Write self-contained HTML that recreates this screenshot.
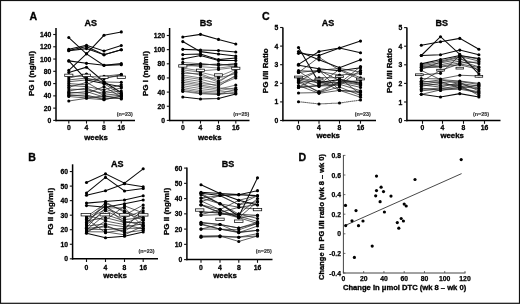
<!DOCTYPE html>
<html><head><meta charset="utf-8"><style>
html,body{margin:0;padding:0;background:#fff;}
body{width:520px;height:304px;overflow:hidden;}
svg{display:block;font-family:"Liberation Sans", sans-serif;will-change:transform;}
</style></head><body>
<svg width="520" height="304" viewBox="0 0 520 304">
<rect x="0" y="0" width="520" height="304" fill="#fff"/>
<rect x="0.5" y="0.5" width="519" height="302.8" fill="none" stroke="#111" stroke-width="1.2"/>
<line x1="56.00" y1="27.90" x2="56.00" y2="121.15" stroke="#000" stroke-width="1.5" />
<line x1="55.30" y1="120.40" x2="135.00" y2="120.40" stroke="#000" stroke-width="1.5" />
<line x1="53.20" y1="120.40" x2="56.00" y2="120.40" stroke="#111" stroke-width="1.1" />
<text x="51.40" y="122.90" font-size="6.8" text-anchor="end" font-weight="bold" fill="#000" stroke="#000" stroke-width="0.28" >0</text>
<line x1="53.20" y1="108.13" x2="56.00" y2="108.13" stroke="#111" stroke-width="1.1" />
<text x="51.40" y="110.63" font-size="6.8" text-anchor="end" font-weight="bold" fill="#000" stroke="#000" stroke-width="0.28" >20</text>
<line x1="53.20" y1="95.86" x2="56.00" y2="95.86" stroke="#111" stroke-width="1.1" />
<text x="51.40" y="98.36" font-size="6.8" text-anchor="end" font-weight="bold" fill="#000" stroke="#000" stroke-width="0.28" >40</text>
<line x1="53.20" y1="83.58" x2="56.00" y2="83.58" stroke="#111" stroke-width="1.1" />
<text x="51.40" y="86.08" font-size="6.8" text-anchor="end" font-weight="bold" fill="#000" stroke="#000" stroke-width="0.28" >60</text>
<line x1="53.20" y1="71.31" x2="56.00" y2="71.31" stroke="#111" stroke-width="1.1" />
<text x="51.40" y="73.81" font-size="6.8" text-anchor="end" font-weight="bold" fill="#000" stroke="#000" stroke-width="0.28" >80</text>
<line x1="53.20" y1="59.04" x2="56.00" y2="59.04" stroke="#111" stroke-width="1.1" />
<text x="51.40" y="61.54" font-size="6.8" text-anchor="end" font-weight="bold" fill="#000" stroke="#000" stroke-width="0.28" >100</text>
<line x1="53.20" y1="46.77" x2="56.00" y2="46.77" stroke="#111" stroke-width="1.1" />
<text x="51.40" y="49.27" font-size="6.8" text-anchor="end" font-weight="bold" fill="#000" stroke="#000" stroke-width="0.28" >120</text>
<line x1="53.20" y1="34.50" x2="56.00" y2="34.50" stroke="#111" stroke-width="1.1" />
<text x="51.40" y="37.00" font-size="6.8" text-anchor="end" font-weight="bold" fill="#000" stroke="#000" stroke-width="0.28" >140</text>
<line x1="68.80" y1="120.40" x2="68.80" y2="123.60" stroke="#111" stroke-width="1.1" />
<text x="68.80" y="129.80" font-size="6.8" text-anchor="middle" font-weight="bold" fill="#000" stroke="#000" stroke-width="0.28" >0</text>
<line x1="86.50" y1="120.40" x2="86.50" y2="123.60" stroke="#111" stroke-width="1.1" />
<text x="86.50" y="129.80" font-size="6.8" text-anchor="middle" font-weight="bold" fill="#000" stroke="#000" stroke-width="0.28" >4</text>
<line x1="104.00" y1="120.40" x2="104.00" y2="123.60" stroke="#111" stroke-width="1.1" />
<text x="104.00" y="129.80" font-size="6.8" text-anchor="middle" font-weight="bold" fill="#000" stroke="#000" stroke-width="0.28" >8</text>
<line x1="121.30" y1="120.40" x2="121.30" y2="123.60" stroke="#111" stroke-width="1.1" />
<text x="121.30" y="129.80" font-size="6.8" text-anchor="middle" font-weight="bold" fill="#000" stroke="#000" stroke-width="0.28" >16</text>
<text x="90.80" y="25.90" font-size="9" text-anchor="middle" font-weight="bold" fill="#000" stroke="#000" stroke-width="0.32" >AS</text>
<text transform="translate(34.30,73.60) rotate(-90)" font-size="8.0" text-anchor="middle" font-weight="bold" stroke="#000" stroke-width="0.32">PG I (ng/ml)</text>
<text x="132.80" y="116.00" font-size="5.4" text-anchor="end" font-weight="bold" fill="#333" stroke="#333" stroke-width="0.15" >(n=23)</text>
<text x="96.00" y="140.40" font-size="7.85" text-anchor="middle" font-weight="bold" fill="#000" stroke="#000" stroke-width="0.32" >weeks</text>
<polyline points="68.80,37.56 86.50,53.82 104.00,65.36 121.30,64.75" fill="none" stroke="#0a0a0a" stroke-width="1.05"/>
<polyline points="68.80,70.39 86.50,53.82 104.00,35.29 121.30,31.92" fill="none" stroke="#0a0a0a" stroke-width="1.05"/>
<polyline points="68.80,49.22 86.50,45.30 104.00,50.94 121.30,45.54" fill="none" stroke="#0a0a0a" stroke-width="1.05"/>
<polyline points="68.80,50.45 86.50,46.58 104.00,54.74 121.30,49.71" fill="none" stroke="#0a0a0a" stroke-width="1.05"/>
<polyline points="68.80,50.76 86.50,48.61 104.00,54.74 121.30,49.71" fill="none" stroke="#0a0a0a" stroke-width="1.05"/>
<polyline points="68.80,60.88 86.50,63.34 104.00,65.24 121.30,63.64" fill="none" stroke="#0a0a0a" stroke-width="1.05"/>
<polyline points="68.80,60.88 86.50,79.90 104.00,83.58 121.30,86.65" fill="none" stroke="#0a0a0a" stroke-width="1.05"/>
<polyline points="68.80,72.54 86.50,67.20 104.00,81.74 121.30,92.79" fill="none" stroke="#0a0a0a" stroke-width="1.05"/>
<polyline points="68.80,101.01 86.50,98.31 104.00,99.72 121.30,95.86" fill="none" stroke="#1e1e1e" stroke-width="0.72"/>
<polyline points="68.80,76.22 86.50,76.22 104.00,77.45 121.30,75.98" fill="none" stroke="#1e1e1e" stroke-width="0.72"/>
<polyline points="68.80,78.06 86.50,74.01 104.00,83.58 121.30,94.63" fill="none" stroke="#1e1e1e" stroke-width="0.72"/>
<polyline points="68.80,79.90 86.50,78.06 104.00,81.99 121.30,82.36" fill="none" stroke="#1e1e1e" stroke-width="0.72"/>
<polyline points="68.80,81.74 86.50,79.90 104.00,78.68 121.30,74.50" fill="none" stroke="#1e1e1e" stroke-width="0.72"/>
<polyline points="68.80,83.58 86.50,84.81 104.00,76.22 121.30,74.38" fill="none" stroke="#1e1e1e" stroke-width="0.72"/>
<polyline points="68.80,85.42 86.50,86.65 104.00,89.72 121.30,84.81" fill="none" stroke="#1e1e1e" stroke-width="0.72"/>
<polyline points="68.80,87.27 86.50,82.36 104.00,92.17 121.30,87.88" fill="none" stroke="#1e1e1e" stroke-width="0.72"/>
<polyline points="68.80,89.11 86.50,89.72 104.00,93.40 121.30,90.95" fill="none" stroke="#1e1e1e" stroke-width="0.72"/>
<polyline points="68.80,90.95 86.50,88.00 104.00,95.24 121.30,93.40" fill="none" stroke="#1e1e1e" stroke-width="0.72"/>
<polyline points="68.80,92.17 86.50,93.40 104.00,86.65 121.30,97.08" fill="none" stroke="#1e1e1e" stroke-width="0.72"/>
<polyline points="68.80,93.40 86.50,91.56 104.00,97.08 121.30,95.00" fill="none" stroke="#1e1e1e" stroke-width="0.72"/>
<polyline points="68.80,94.63 86.50,96.47 104.00,98.31 121.30,98.31" fill="none" stroke="#1e1e1e" stroke-width="0.72"/>
<polyline points="68.80,95.55 86.50,95.00 104.00,99.54 121.30,96.47" fill="none" stroke="#1e1e1e" stroke-width="0.72"/>
<polyline points="68.80,96.47 86.50,98.00 104.00,95.86 121.30,98.99" fill="none" stroke="#1e1e1e" stroke-width="0.72"/>
<circle cx="68.80" cy="37.56" r="1.55" fill="#000"/>
<circle cx="86.50" cy="53.82" r="1.55" fill="#000"/>
<circle cx="104.00" cy="65.36" r="1.55" fill="#000"/>
<circle cx="121.30" cy="64.75" r="1.55" fill="#000"/>
<circle cx="68.80" cy="70.39" r="1.55" fill="#000"/>
<circle cx="86.50" cy="53.82" r="1.55" fill="#000"/>
<circle cx="104.00" cy="35.29" r="1.55" fill="#000"/>
<circle cx="121.30" cy="31.92" r="1.55" fill="#000"/>
<circle cx="68.80" cy="49.22" r="1.55" fill="#000"/>
<circle cx="86.50" cy="45.30" r="1.55" fill="#000"/>
<circle cx="104.00" cy="50.94" r="1.55" fill="#000"/>
<circle cx="121.30" cy="45.54" r="1.55" fill="#000"/>
<circle cx="68.80" cy="50.45" r="1.55" fill="#000"/>
<circle cx="86.50" cy="46.58" r="1.55" fill="#000"/>
<circle cx="104.00" cy="54.74" r="1.55" fill="#000"/>
<circle cx="121.30" cy="49.71" r="1.55" fill="#000"/>
<circle cx="68.80" cy="50.76" r="1.55" fill="#000"/>
<circle cx="86.50" cy="48.61" r="1.55" fill="#000"/>
<circle cx="104.00" cy="54.74" r="1.55" fill="#000"/>
<circle cx="121.30" cy="49.71" r="1.55" fill="#000"/>
<circle cx="68.80" cy="60.88" r="1.55" fill="#000"/>
<circle cx="86.50" cy="63.34" r="1.55" fill="#000"/>
<circle cx="104.00" cy="65.24" r="1.55" fill="#000"/>
<circle cx="121.30" cy="63.64" r="1.55" fill="#000"/>
<circle cx="68.80" cy="60.88" r="1.55" fill="#000"/>
<circle cx="86.50" cy="79.90" r="1.55" fill="#000"/>
<circle cx="104.00" cy="83.58" r="1.55" fill="#000"/>
<circle cx="121.30" cy="86.65" r="1.55" fill="#000"/>
<circle cx="68.80" cy="72.54" r="1.55" fill="#000"/>
<circle cx="86.50" cy="67.20" r="1.55" fill="#000"/>
<circle cx="104.00" cy="81.74" r="1.55" fill="#000"/>
<circle cx="121.30" cy="92.79" r="1.55" fill="#000"/>
<circle cx="68.80" cy="101.01" r="1.55" fill="#000"/>
<circle cx="86.50" cy="98.31" r="1.55" fill="#000"/>
<circle cx="104.00" cy="99.72" r="1.55" fill="#000"/>
<circle cx="121.30" cy="95.86" r="1.55" fill="#000"/>
<circle cx="68.80" cy="76.22" r="1.55" fill="#000"/>
<circle cx="86.50" cy="76.22" r="1.55" fill="#000"/>
<circle cx="104.00" cy="77.45" r="1.55" fill="#000"/>
<circle cx="121.30" cy="75.98" r="1.55" fill="#000"/>
<circle cx="68.80" cy="78.06" r="1.55" fill="#000"/>
<circle cx="86.50" cy="74.01" r="1.55" fill="#000"/>
<circle cx="104.00" cy="83.58" r="1.55" fill="#000"/>
<circle cx="121.30" cy="94.63" r="1.55" fill="#000"/>
<circle cx="68.80" cy="79.90" r="1.55" fill="#000"/>
<circle cx="86.50" cy="78.06" r="1.55" fill="#000"/>
<circle cx="104.00" cy="81.99" r="1.55" fill="#000"/>
<circle cx="121.30" cy="82.36" r="1.55" fill="#000"/>
<circle cx="68.80" cy="81.74" r="1.55" fill="#000"/>
<circle cx="86.50" cy="79.90" r="1.55" fill="#000"/>
<circle cx="104.00" cy="78.68" r="1.55" fill="#000"/>
<circle cx="121.30" cy="74.50" r="1.55" fill="#000"/>
<circle cx="68.80" cy="83.58" r="1.55" fill="#000"/>
<circle cx="86.50" cy="84.81" r="1.55" fill="#000"/>
<circle cx="104.00" cy="76.22" r="1.55" fill="#000"/>
<circle cx="121.30" cy="74.38" r="1.55" fill="#000"/>
<circle cx="68.80" cy="85.42" r="1.55" fill="#000"/>
<circle cx="86.50" cy="86.65" r="1.55" fill="#000"/>
<circle cx="104.00" cy="89.72" r="1.55" fill="#000"/>
<circle cx="121.30" cy="84.81" r="1.55" fill="#000"/>
<circle cx="68.80" cy="87.27" r="1.55" fill="#000"/>
<circle cx="86.50" cy="82.36" r="1.55" fill="#000"/>
<circle cx="104.00" cy="92.17" r="1.55" fill="#000"/>
<circle cx="121.30" cy="87.88" r="1.55" fill="#000"/>
<circle cx="68.80" cy="89.11" r="1.55" fill="#000"/>
<circle cx="86.50" cy="89.72" r="1.55" fill="#000"/>
<circle cx="104.00" cy="93.40" r="1.55" fill="#000"/>
<circle cx="121.30" cy="90.95" r="1.55" fill="#000"/>
<circle cx="68.80" cy="90.95" r="1.55" fill="#000"/>
<circle cx="86.50" cy="88.00" r="1.55" fill="#000"/>
<circle cx="104.00" cy="95.24" r="1.55" fill="#000"/>
<circle cx="121.30" cy="93.40" r="1.55" fill="#000"/>
<circle cx="68.80" cy="92.17" r="1.55" fill="#000"/>
<circle cx="86.50" cy="93.40" r="1.55" fill="#000"/>
<circle cx="104.00" cy="86.65" r="1.55" fill="#000"/>
<circle cx="121.30" cy="97.08" r="1.55" fill="#000"/>
<circle cx="68.80" cy="93.40" r="1.55" fill="#000"/>
<circle cx="86.50" cy="91.56" r="1.55" fill="#000"/>
<circle cx="104.00" cy="97.08" r="1.55" fill="#000"/>
<circle cx="121.30" cy="95.00" r="1.55" fill="#000"/>
<circle cx="68.80" cy="94.63" r="1.55" fill="#000"/>
<circle cx="86.50" cy="96.47" r="1.55" fill="#000"/>
<circle cx="104.00" cy="98.31" r="1.55" fill="#000"/>
<circle cx="121.30" cy="98.31" r="1.55" fill="#000"/>
<circle cx="68.80" cy="95.55" r="1.55" fill="#000"/>
<circle cx="86.50" cy="95.00" r="1.55" fill="#000"/>
<circle cx="104.00" cy="99.54" r="1.55" fill="#000"/>
<circle cx="121.30" cy="96.47" r="1.55" fill="#000"/>
<circle cx="68.80" cy="96.47" r="1.55" fill="#000"/>
<circle cx="86.50" cy="98.00" r="1.55" fill="#000"/>
<circle cx="104.00" cy="95.86" r="1.55" fill="#000"/>
<circle cx="121.30" cy="98.99" r="1.55" fill="#000"/>
<rect x="64.70" y="74.16" width="8.2" height="2.4" fill="#fff" stroke="#111" stroke-width="0.75"/>
<rect x="82.40" y="74.16" width="8.2" height="2.4" fill="#fff" stroke="#111" stroke-width="0.75"/>
<rect x="99.90" y="76.06" width="8.2" height="2.4" fill="#fff" stroke="#111" stroke-width="0.75"/>
<rect x="117.20" y="76.06" width="8.2" height="2.4" fill="#fff" stroke="#111" stroke-width="0.75"/>
<line x1="169.60" y1="28.00" x2="169.60" y2="121.15" stroke="#000" stroke-width="1.5" />
<line x1="168.90" y1="120.40" x2="249.50" y2="120.40" stroke="#000" stroke-width="1.5" />
<line x1="166.80" y1="120.40" x2="169.60" y2="120.40" stroke="#111" stroke-width="1.1" />
<text x="165.00" y="122.90" font-size="6.8" text-anchor="end" font-weight="bold" fill="#000" stroke="#000" stroke-width="0.28" >0</text>
<line x1="166.80" y1="106.25" x2="169.60" y2="106.25" stroke="#111" stroke-width="1.1" />
<text x="165.00" y="108.75" font-size="6.8" text-anchor="end" font-weight="bold" fill="#000" stroke="#000" stroke-width="0.28" >20</text>
<line x1="166.80" y1="92.10" x2="169.60" y2="92.10" stroke="#111" stroke-width="1.1" />
<text x="165.00" y="94.60" font-size="6.8" text-anchor="end" font-weight="bold" fill="#000" stroke="#000" stroke-width="0.28" >40</text>
<line x1="166.80" y1="77.95" x2="169.60" y2="77.95" stroke="#111" stroke-width="1.1" />
<text x="165.00" y="80.45" font-size="6.8" text-anchor="end" font-weight="bold" fill="#000" stroke="#000" stroke-width="0.28" >60</text>
<line x1="166.80" y1="63.80" x2="169.60" y2="63.80" stroke="#111" stroke-width="1.1" />
<text x="165.00" y="66.30" font-size="6.8" text-anchor="end" font-weight="bold" fill="#000" stroke="#000" stroke-width="0.28" >80</text>
<line x1="166.80" y1="49.65" x2="169.60" y2="49.65" stroke="#111" stroke-width="1.1" />
<text x="165.00" y="52.15" font-size="6.8" text-anchor="end" font-weight="bold" fill="#000" stroke="#000" stroke-width="0.28" >100</text>
<line x1="166.80" y1="35.50" x2="169.60" y2="35.50" stroke="#111" stroke-width="1.1" />
<text x="165.00" y="38.00" font-size="6.8" text-anchor="end" font-weight="bold" fill="#000" stroke="#000" stroke-width="0.28" >120</text>
<line x1="182.80" y1="120.40" x2="182.80" y2="123.60" stroke="#111" stroke-width="1.1" />
<text x="182.80" y="129.80" font-size="6.8" text-anchor="middle" font-weight="bold" fill="#000" stroke="#000" stroke-width="0.28" >0</text>
<line x1="200.50" y1="120.40" x2="200.50" y2="123.60" stroke="#111" stroke-width="1.1" />
<text x="200.50" y="129.80" font-size="6.8" text-anchor="middle" font-weight="bold" fill="#000" stroke="#000" stroke-width="0.28" >4</text>
<line x1="218.50" y1="120.40" x2="218.50" y2="123.60" stroke="#111" stroke-width="1.1" />
<text x="218.50" y="129.80" font-size="6.8" text-anchor="middle" font-weight="bold" fill="#000" stroke="#000" stroke-width="0.28" >8</text>
<line x1="235.80" y1="120.40" x2="235.80" y2="123.60" stroke="#111" stroke-width="1.1" />
<text x="235.80" y="129.80" font-size="6.8" text-anchor="middle" font-weight="bold" fill="#000" stroke="#000" stroke-width="0.28" >16</text>
<text x="205.90" y="26.30" font-size="9" text-anchor="middle" font-weight="bold" fill="#000" stroke="#000" stroke-width="0.32" >BS</text>
<text transform="translate(147.50,73.60) rotate(-90)" font-size="8.0" text-anchor="middle" font-weight="bold" stroke="#000" stroke-width="0.32">PG I (ng/ml)</text>
<text x="249.20" y="116.00" font-size="5.4" text-anchor="end" font-weight="bold" fill="#333" stroke="#333" stroke-width="0.15" >(n=25)</text>
<text x="209.80" y="140.40" font-size="7.85" text-anchor="middle" font-weight="bold" fill="#000" stroke="#000" stroke-width="0.32" >weeks</text>
<polyline points="182.80,36.99 200.50,34.37 218.50,39.39 235.80,43.99" fill="none" stroke="#0a0a0a" stroke-width="1.05"/>
<polyline points="182.80,41.58 200.50,51.63 218.50,54.04 235.80,56.02" fill="none" stroke="#0a0a0a" stroke-width="1.05"/>
<polyline points="182.80,49.37 200.50,50.00 218.50,50.43 235.80,51.98" fill="none" stroke="#0a0a0a" stroke-width="1.05"/>
<polyline points="182.80,54.60 200.50,54.04 218.50,59.63 235.80,58.00" fill="none" stroke="#0a0a0a" stroke-width="1.05"/>
<polyline points="182.80,58.99 200.50,55.59 218.50,60.40 235.80,60.40" fill="none" stroke="#0a0a0a" stroke-width="1.05"/>
<polyline points="182.80,65.00 200.50,64.01 218.50,65.00 235.80,64.01" fill="none" stroke="#0a0a0a" stroke-width="1.05"/>
<polyline points="182.80,96.98 200.50,98.96 218.50,98.54 235.80,93.94" fill="none" stroke="#0a0a0a" stroke-width="1.05"/>
<polyline points="182.80,62.39 200.50,63.80 218.50,65.22 235.80,63.80" fill="none" stroke="#333" stroke-width="0.62"/>
<polyline points="182.80,64.51 200.50,66.63 218.50,68.05 235.80,65.92" fill="none" stroke="#333" stroke-width="0.62"/>
<polyline points="182.80,66.28 200.50,65.22 218.50,63.80 235.80,66.63" fill="none" stroke="#333" stroke-width="0.62"/>
<polyline points="182.80,68.05 200.50,70.88 218.50,69.46 235.80,67.34" fill="none" stroke="#333" stroke-width="0.62"/>
<polyline points="182.80,69.81 200.50,72.29 218.50,76.53 235.80,69.46" fill="none" stroke="#333" stroke-width="0.62"/>
<polyline points="182.80,71.58 200.50,75.12 218.50,82.20 235.80,70.88" fill="none" stroke="#333" stroke-width="0.62"/>
<polyline points="182.80,73.35 200.50,73.71 218.50,80.78 235.80,72.29" fill="none" stroke="#333" stroke-width="0.62"/>
<polyline points="182.80,75.12 200.50,77.95 218.50,77.95 235.80,73.71" fill="none" stroke="#333" stroke-width="0.62"/>
<polyline points="182.80,76.89 200.50,79.37 218.50,83.61 235.80,76.53" fill="none" stroke="#333" stroke-width="0.62"/>
<polyline points="182.80,78.66 200.50,81.49 218.50,86.44 235.80,75.12" fill="none" stroke="#333" stroke-width="0.62"/>
<polyline points="182.80,80.43 200.50,83.61 218.50,85.03 235.80,77.95" fill="none" stroke="#333" stroke-width="0.62"/>
<polyline points="182.80,82.20 200.50,85.03 218.50,87.86 235.80,89.27" fill="none" stroke="#333" stroke-width="0.62"/>
<polyline points="182.80,83.96 200.50,86.44 218.50,89.27 235.80,85.03" fill="none" stroke="#333" stroke-width="0.62"/>
<polyline points="182.80,85.73 200.50,88.56 218.50,90.69 235.80,87.86" fill="none" stroke="#333" stroke-width="0.62"/>
<polyline points="182.80,87.50 200.50,90.69 218.50,92.10 235.80,90.69" fill="none" stroke="#333" stroke-width="0.62"/>
<polyline points="182.80,89.27 200.50,92.10 218.50,93.52 235.80,93.52" fill="none" stroke="#333" stroke-width="0.62"/>
<polyline points="182.80,90.69 200.50,93.16 218.50,94.58 235.80,92.10" fill="none" stroke="#333" stroke-width="0.62"/>
<polyline points="182.80,91.39 200.50,93.87 218.50,94.22 235.80,89.27" fill="none" stroke="#333" stroke-width="0.62"/>
<circle cx="182.80" cy="36.99" r="1.55" fill="#000"/>
<circle cx="200.50" cy="34.37" r="1.55" fill="#000"/>
<circle cx="218.50" cy="39.39" r="1.55" fill="#000"/>
<circle cx="235.80" cy="43.99" r="1.55" fill="#000"/>
<circle cx="182.80" cy="41.58" r="1.55" fill="#000"/>
<circle cx="200.50" cy="51.63" r="1.55" fill="#000"/>
<circle cx="218.50" cy="54.04" r="1.55" fill="#000"/>
<circle cx="235.80" cy="56.02" r="1.55" fill="#000"/>
<circle cx="182.80" cy="49.37" r="1.55" fill="#000"/>
<circle cx="200.50" cy="50.00" r="1.55" fill="#000"/>
<circle cx="218.50" cy="50.43" r="1.55" fill="#000"/>
<circle cx="235.80" cy="51.98" r="1.55" fill="#000"/>
<circle cx="182.80" cy="54.60" r="1.55" fill="#000"/>
<circle cx="200.50" cy="54.04" r="1.55" fill="#000"/>
<circle cx="218.50" cy="59.63" r="1.55" fill="#000"/>
<circle cx="235.80" cy="58.00" r="1.55" fill="#000"/>
<circle cx="182.80" cy="58.99" r="1.55" fill="#000"/>
<circle cx="200.50" cy="55.59" r="1.55" fill="#000"/>
<circle cx="218.50" cy="60.40" r="1.55" fill="#000"/>
<circle cx="235.80" cy="60.40" r="1.55" fill="#000"/>
<circle cx="182.80" cy="65.00" r="1.55" fill="#000"/>
<circle cx="200.50" cy="64.01" r="1.55" fill="#000"/>
<circle cx="218.50" cy="65.00" r="1.55" fill="#000"/>
<circle cx="235.80" cy="64.01" r="1.55" fill="#000"/>
<circle cx="182.80" cy="96.98" r="1.55" fill="#000"/>
<circle cx="200.50" cy="98.96" r="1.55" fill="#000"/>
<circle cx="218.50" cy="98.54" r="1.55" fill="#000"/>
<circle cx="235.80" cy="93.94" r="1.55" fill="#000"/>
<circle cx="182.80" cy="62.39" r="1.55" fill="#000"/>
<circle cx="200.50" cy="63.80" r="1.55" fill="#000"/>
<circle cx="218.50" cy="65.22" r="1.55" fill="#000"/>
<circle cx="235.80" cy="63.80" r="1.55" fill="#000"/>
<circle cx="182.80" cy="64.51" r="1.55" fill="#000"/>
<circle cx="200.50" cy="66.63" r="1.55" fill="#000"/>
<circle cx="218.50" cy="68.05" r="1.55" fill="#000"/>
<circle cx="235.80" cy="65.92" r="1.55" fill="#000"/>
<circle cx="182.80" cy="66.28" r="1.55" fill="#000"/>
<circle cx="200.50" cy="65.22" r="1.55" fill="#000"/>
<circle cx="218.50" cy="63.80" r="1.55" fill="#000"/>
<circle cx="235.80" cy="66.63" r="1.55" fill="#000"/>
<circle cx="182.80" cy="68.05" r="1.55" fill="#000"/>
<circle cx="200.50" cy="70.88" r="1.55" fill="#000"/>
<circle cx="218.50" cy="69.46" r="1.55" fill="#000"/>
<circle cx="235.80" cy="67.34" r="1.55" fill="#000"/>
<circle cx="182.80" cy="69.81" r="1.55" fill="#000"/>
<circle cx="200.50" cy="72.29" r="1.55" fill="#000"/>
<circle cx="218.50" cy="76.53" r="1.55" fill="#000"/>
<circle cx="235.80" cy="69.46" r="1.55" fill="#000"/>
<circle cx="182.80" cy="71.58" r="1.55" fill="#000"/>
<circle cx="200.50" cy="75.12" r="1.55" fill="#000"/>
<circle cx="218.50" cy="82.20" r="1.55" fill="#000"/>
<circle cx="235.80" cy="70.88" r="1.55" fill="#000"/>
<circle cx="182.80" cy="73.35" r="1.55" fill="#000"/>
<circle cx="200.50" cy="73.71" r="1.55" fill="#000"/>
<circle cx="218.50" cy="80.78" r="1.55" fill="#000"/>
<circle cx="235.80" cy="72.29" r="1.55" fill="#000"/>
<circle cx="182.80" cy="75.12" r="1.55" fill="#000"/>
<circle cx="200.50" cy="77.95" r="1.55" fill="#000"/>
<circle cx="218.50" cy="77.95" r="1.55" fill="#000"/>
<circle cx="235.80" cy="73.71" r="1.55" fill="#000"/>
<circle cx="182.80" cy="76.89" r="1.55" fill="#000"/>
<circle cx="200.50" cy="79.37" r="1.55" fill="#000"/>
<circle cx="218.50" cy="83.61" r="1.55" fill="#000"/>
<circle cx="235.80" cy="76.53" r="1.55" fill="#000"/>
<circle cx="182.80" cy="78.66" r="1.55" fill="#000"/>
<circle cx="200.50" cy="81.49" r="1.55" fill="#000"/>
<circle cx="218.50" cy="86.44" r="1.55" fill="#000"/>
<circle cx="235.80" cy="75.12" r="1.55" fill="#000"/>
<circle cx="182.80" cy="80.43" r="1.55" fill="#000"/>
<circle cx="200.50" cy="83.61" r="1.55" fill="#000"/>
<circle cx="218.50" cy="85.03" r="1.55" fill="#000"/>
<circle cx="235.80" cy="77.95" r="1.55" fill="#000"/>
<circle cx="182.80" cy="82.20" r="1.55" fill="#000"/>
<circle cx="200.50" cy="85.03" r="1.55" fill="#000"/>
<circle cx="218.50" cy="87.86" r="1.55" fill="#000"/>
<circle cx="235.80" cy="89.27" r="1.55" fill="#000"/>
<circle cx="182.80" cy="83.96" r="1.55" fill="#000"/>
<circle cx="200.50" cy="86.44" r="1.55" fill="#000"/>
<circle cx="218.50" cy="89.27" r="1.55" fill="#000"/>
<circle cx="235.80" cy="85.03" r="1.55" fill="#000"/>
<circle cx="182.80" cy="85.73" r="1.55" fill="#000"/>
<circle cx="200.50" cy="88.56" r="1.55" fill="#000"/>
<circle cx="218.50" cy="90.69" r="1.55" fill="#000"/>
<circle cx="235.80" cy="87.86" r="1.55" fill="#000"/>
<circle cx="182.80" cy="87.50" r="1.55" fill="#000"/>
<circle cx="200.50" cy="90.69" r="1.55" fill="#000"/>
<circle cx="218.50" cy="92.10" r="1.55" fill="#000"/>
<circle cx="235.80" cy="90.69" r="1.55" fill="#000"/>
<circle cx="182.80" cy="89.27" r="1.55" fill="#000"/>
<circle cx="200.50" cy="92.10" r="1.55" fill="#000"/>
<circle cx="218.50" cy="93.52" r="1.55" fill="#000"/>
<circle cx="235.80" cy="93.52" r="1.55" fill="#000"/>
<circle cx="182.80" cy="90.69" r="1.55" fill="#000"/>
<circle cx="200.50" cy="93.16" r="1.55" fill="#000"/>
<circle cx="218.50" cy="94.58" r="1.55" fill="#000"/>
<circle cx="235.80" cy="92.10" r="1.55" fill="#000"/>
<circle cx="182.80" cy="91.39" r="1.55" fill="#000"/>
<circle cx="200.50" cy="93.87" r="1.55" fill="#000"/>
<circle cx="218.50" cy="94.22" r="1.55" fill="#000"/>
<circle cx="235.80" cy="89.27" r="1.55" fill="#000"/>
<rect x="178.70" y="64.72" width="8.2" height="2.4" fill="#fff" stroke="#111" stroke-width="0.75"/>
<rect x="196.40" y="69.18" width="8.2" height="2.4" fill="#fff" stroke="#111" stroke-width="0.75"/>
<rect x="214.40" y="73.78" width="8.2" height="2.4" fill="#fff" stroke="#111" stroke-width="0.75"/>
<rect x="231.70" y="67.20" width="8.2" height="2.4" fill="#fff" stroke="#111" stroke-width="0.75"/>
<line x1="282.90" y1="27.40" x2="282.90" y2="121.25" stroke="#000" stroke-width="1.5" />
<line x1="282.20" y1="120.50" x2="376.00" y2="120.50" stroke="#000" stroke-width="1.5" />
<line x1="280.10" y1="120.50" x2="282.90" y2="120.50" stroke="#111" stroke-width="1.1" />
<text x="278.30" y="123.00" font-size="6.8" text-anchor="end" font-weight="bold" fill="#000" stroke="#000" stroke-width="0.28" >0</text>
<line x1="280.10" y1="101.90" x2="282.90" y2="101.90" stroke="#111" stroke-width="1.1" />
<text x="278.30" y="104.40" font-size="6.8" text-anchor="end" font-weight="bold" fill="#000" stroke="#000" stroke-width="0.28" >1</text>
<line x1="280.10" y1="83.30" x2="282.90" y2="83.30" stroke="#111" stroke-width="1.1" />
<text x="278.30" y="85.80" font-size="6.8" text-anchor="end" font-weight="bold" fill="#000" stroke="#000" stroke-width="0.28" >2</text>
<line x1="280.10" y1="64.70" x2="282.90" y2="64.70" stroke="#111" stroke-width="1.1" />
<text x="278.30" y="67.20" font-size="6.8" text-anchor="end" font-weight="bold" fill="#000" stroke="#000" stroke-width="0.28" >3</text>
<line x1="280.10" y1="46.10" x2="282.90" y2="46.10" stroke="#111" stroke-width="1.1" />
<text x="278.30" y="48.60" font-size="6.8" text-anchor="end" font-weight="bold" fill="#000" stroke="#000" stroke-width="0.28" >4</text>
<line x1="280.10" y1="27.50" x2="282.90" y2="27.50" stroke="#111" stroke-width="1.1" />
<text x="278.30" y="30.00" font-size="6.8" text-anchor="end" font-weight="bold" fill="#000" stroke="#000" stroke-width="0.28" >5</text>
<line x1="298.50" y1="120.50" x2="298.50" y2="123.70" stroke="#111" stroke-width="1.1" />
<text x="298.50" y="129.90" font-size="6.8" text-anchor="middle" font-weight="bold" fill="#000" stroke="#000" stroke-width="0.28" >0</text>
<line x1="319.00" y1="120.50" x2="319.00" y2="123.70" stroke="#111" stroke-width="1.1" />
<text x="319.00" y="129.90" font-size="6.8" text-anchor="middle" font-weight="bold" fill="#000" stroke="#000" stroke-width="0.28" >4</text>
<line x1="339.50" y1="120.50" x2="339.50" y2="123.70" stroke="#111" stroke-width="1.1" />
<text x="339.50" y="129.90" font-size="6.8" text-anchor="middle" font-weight="bold" fill="#000" stroke="#000" stroke-width="0.28" >8</text>
<line x1="360.50" y1="120.50" x2="360.50" y2="123.70" stroke="#111" stroke-width="1.1" />
<text x="360.50" y="129.90" font-size="6.8" text-anchor="middle" font-weight="bold" fill="#000" stroke="#000" stroke-width="0.28" >16</text>
<text x="327.90" y="25.70" font-size="9" text-anchor="middle" font-weight="bold" fill="#000" stroke="#000" stroke-width="0.32" >AS</text>
<text transform="translate(268.40,70.75) rotate(-90)" font-size="8.0" text-anchor="middle" font-weight="bold" stroke="#000" stroke-width="0.32">PG I/II Ratio</text>
<text x="370.80" y="116.30" font-size="5.4" text-anchor="end" font-weight="bold" fill="#333" stroke="#333" stroke-width="0.15" >(n=23)</text>
<text x="328.20" y="138.20" font-size="7.85" text-anchor="middle" font-weight="bold" fill="#000" stroke="#000" stroke-width="0.32" >weeks</text>
<polyline points="298.50,47.59 319.00,82.56 339.50,79.58 360.50,83.30" fill="none" stroke="#0a0a0a" stroke-width="1.05"/>
<polyline points="298.50,51.49 319.00,59.86 339.50,67.68 360.50,59.86" fill="none" stroke="#0a0a0a" stroke-width="1.05"/>
<polyline points="298.50,53.35 319.00,55.40 339.50,47.96 360.50,52.80" fill="none" stroke="#0a0a0a" stroke-width="1.05"/>
<polyline points="298.50,64.33 319.00,51.49 339.50,47.96 360.50,41.08" fill="none" stroke="#0a0a0a" stroke-width="1.05"/>
<polyline points="298.50,65.26 319.00,68.79 339.50,70.65 360.50,67.68" fill="none" stroke="#0a0a0a" stroke-width="1.05"/>
<polyline points="298.50,101.71 319.00,103.95 339.50,103.02 360.50,100.04" fill="none" stroke="#333" stroke-width="1.05" stroke-dasharray="1.3,0.7"/>
<polyline points="298.50,70.65 319.00,71.58 339.50,74.93 360.50,73.63" fill="none" stroke="#1e1e1e" stroke-width="0.72"/>
<polyline points="298.50,72.51 319.00,57.26 339.50,70.28 360.50,79.58" fill="none" stroke="#1e1e1e" stroke-width="0.72"/>
<polyline points="298.50,78.46 319.00,83.30 339.50,82.56 360.50,87.39" fill="none" stroke="#1e1e1e" stroke-width="0.72"/>
<polyline points="298.50,79.58 319.00,86.46 339.50,79.58 360.50,82.56" fill="none" stroke="#1e1e1e" stroke-width="0.72"/>
<polyline points="298.50,81.44 319.00,70.28 339.50,90.37 360.50,91.48" fill="none" stroke="#1e1e1e" stroke-width="0.72"/>
<polyline points="298.50,82.56 319.00,91.48 339.50,81.44 360.50,85.16" fill="none" stroke="#1e1e1e" stroke-width="0.72"/>
<polyline points="298.50,85.53 319.00,93.34 339.50,90.37 360.50,97.25" fill="none" stroke="#1e1e1e" stroke-width="0.72"/>
<polyline points="298.50,87.02 319.00,77.72 339.50,77.72 360.50,94.46" fill="none" stroke="#1e1e1e" stroke-width="0.72"/>
<polyline points="298.50,87.39 319.00,85.16 339.50,84.23 360.50,90.74" fill="none" stroke="#1e1e1e" stroke-width="0.72"/>
<polyline points="298.50,92.97 319.00,92.60 339.50,87.02 360.50,95.39" fill="none" stroke="#1e1e1e" stroke-width="0.72"/>
<polyline points="298.50,77.72 319.00,81.44 339.50,83.30 360.50,66.56" fill="none" stroke="#1e1e1e" stroke-width="0.72"/>
<polyline points="298.50,71.21 319.00,84.23 339.50,69.35 360.50,77.72" fill="none" stroke="#1e1e1e" stroke-width="0.72"/>
<polyline points="298.50,78.46 319.00,70.28 339.50,80.51 360.50,84.23" fill="none" stroke="#1e1e1e" stroke-width="0.72"/>
<polyline points="298.50,87.39 319.00,86.09 339.50,85.16 360.50,70.28" fill="none" stroke="#1e1e1e" stroke-width="0.72"/>
<polyline points="298.50,72.51 319.00,70.28 339.50,68.42 360.50,72.14" fill="none" stroke="#1e1e1e" stroke-width="0.72"/>
<polyline points="298.50,82.56 319.00,80.51 339.50,90.37 360.50,92.60" fill="none" stroke="#1e1e1e" stroke-width="0.72"/>
<polyline points="298.50,80.51 319.00,92.60 339.50,82.37 360.50,80.51" fill="none" stroke="#1e1e1e" stroke-width="0.72"/>
<circle cx="298.50" cy="47.59" r="1.55" fill="#000"/>
<circle cx="319.00" cy="82.56" r="1.55" fill="#000"/>
<circle cx="339.50" cy="79.58" r="1.55" fill="#000"/>
<circle cx="360.50" cy="83.30" r="1.55" fill="#000"/>
<circle cx="298.50" cy="51.49" r="1.55" fill="#000"/>
<circle cx="319.00" cy="59.86" r="1.55" fill="#000"/>
<circle cx="339.50" cy="67.68" r="1.55" fill="#000"/>
<circle cx="360.50" cy="59.86" r="1.55" fill="#000"/>
<circle cx="298.50" cy="53.35" r="1.55" fill="#000"/>
<circle cx="319.00" cy="55.40" r="1.55" fill="#000"/>
<circle cx="339.50" cy="47.96" r="1.55" fill="#000"/>
<circle cx="360.50" cy="52.80" r="1.55" fill="#000"/>
<circle cx="298.50" cy="64.33" r="1.55" fill="#000"/>
<circle cx="319.00" cy="51.49" r="1.55" fill="#000"/>
<circle cx="339.50" cy="47.96" r="1.55" fill="#000"/>
<circle cx="360.50" cy="41.08" r="1.55" fill="#000"/>
<circle cx="298.50" cy="65.26" r="1.55" fill="#000"/>
<circle cx="319.00" cy="68.79" r="1.55" fill="#000"/>
<circle cx="339.50" cy="70.65" r="1.55" fill="#000"/>
<circle cx="360.50" cy="67.68" r="1.55" fill="#000"/>
<circle cx="298.50" cy="101.71" r="1.55" fill="#000"/>
<circle cx="319.00" cy="103.95" r="1.55" fill="#000"/>
<circle cx="339.50" cy="103.02" r="1.55" fill="#000"/>
<circle cx="360.50" cy="100.04" r="1.55" fill="#000"/>
<circle cx="298.50" cy="70.65" r="1.55" fill="#000"/>
<circle cx="319.00" cy="71.58" r="1.55" fill="#000"/>
<circle cx="339.50" cy="74.93" r="1.55" fill="#000"/>
<circle cx="360.50" cy="73.63" r="1.55" fill="#000"/>
<circle cx="298.50" cy="72.51" r="1.55" fill="#000"/>
<circle cx="319.00" cy="57.26" r="1.55" fill="#000"/>
<circle cx="339.50" cy="70.28" r="1.55" fill="#000"/>
<circle cx="360.50" cy="79.58" r="1.55" fill="#000"/>
<circle cx="298.50" cy="78.46" r="1.55" fill="#000"/>
<circle cx="319.00" cy="83.30" r="1.55" fill="#000"/>
<circle cx="339.50" cy="82.56" r="1.55" fill="#000"/>
<circle cx="360.50" cy="87.39" r="1.55" fill="#000"/>
<circle cx="298.50" cy="79.58" r="1.55" fill="#000"/>
<circle cx="319.00" cy="86.46" r="1.55" fill="#000"/>
<circle cx="339.50" cy="79.58" r="1.55" fill="#000"/>
<circle cx="360.50" cy="82.56" r="1.55" fill="#000"/>
<circle cx="298.50" cy="81.44" r="1.55" fill="#000"/>
<circle cx="319.00" cy="70.28" r="1.55" fill="#000"/>
<circle cx="339.50" cy="90.37" r="1.55" fill="#000"/>
<circle cx="360.50" cy="91.48" r="1.55" fill="#000"/>
<circle cx="298.50" cy="82.56" r="1.55" fill="#000"/>
<circle cx="319.00" cy="91.48" r="1.55" fill="#000"/>
<circle cx="339.50" cy="81.44" r="1.55" fill="#000"/>
<circle cx="360.50" cy="85.16" r="1.55" fill="#000"/>
<circle cx="298.50" cy="85.53" r="1.55" fill="#000"/>
<circle cx="319.00" cy="93.34" r="1.55" fill="#000"/>
<circle cx="339.50" cy="90.37" r="1.55" fill="#000"/>
<circle cx="360.50" cy="97.25" r="1.55" fill="#000"/>
<circle cx="298.50" cy="87.02" r="1.55" fill="#000"/>
<circle cx="319.00" cy="77.72" r="1.55" fill="#000"/>
<circle cx="339.50" cy="77.72" r="1.55" fill="#000"/>
<circle cx="360.50" cy="94.46" r="1.55" fill="#000"/>
<circle cx="298.50" cy="87.39" r="1.55" fill="#000"/>
<circle cx="319.00" cy="85.16" r="1.55" fill="#000"/>
<circle cx="339.50" cy="84.23" r="1.55" fill="#000"/>
<circle cx="360.50" cy="90.74" r="1.55" fill="#000"/>
<circle cx="298.50" cy="92.97" r="1.55" fill="#000"/>
<circle cx="319.00" cy="92.60" r="1.55" fill="#000"/>
<circle cx="339.50" cy="87.02" r="1.55" fill="#000"/>
<circle cx="360.50" cy="95.39" r="1.55" fill="#000"/>
<circle cx="298.50" cy="77.72" r="1.55" fill="#000"/>
<circle cx="319.00" cy="81.44" r="1.55" fill="#000"/>
<circle cx="339.50" cy="83.30" r="1.55" fill="#000"/>
<circle cx="360.50" cy="66.56" r="1.55" fill="#000"/>
<circle cx="298.50" cy="71.21" r="1.55" fill="#000"/>
<circle cx="319.00" cy="84.23" r="1.55" fill="#000"/>
<circle cx="339.50" cy="69.35" r="1.55" fill="#000"/>
<circle cx="360.50" cy="77.72" r="1.55" fill="#000"/>
<circle cx="298.50" cy="78.46" r="1.55" fill="#000"/>
<circle cx="319.00" cy="70.28" r="1.55" fill="#000"/>
<circle cx="339.50" cy="80.51" r="1.55" fill="#000"/>
<circle cx="360.50" cy="84.23" r="1.55" fill="#000"/>
<circle cx="298.50" cy="87.39" r="1.55" fill="#000"/>
<circle cx="319.00" cy="86.09" r="1.55" fill="#000"/>
<circle cx="339.50" cy="85.16" r="1.55" fill="#000"/>
<circle cx="360.50" cy="70.28" r="1.55" fill="#000"/>
<circle cx="298.50" cy="72.51" r="1.55" fill="#000"/>
<circle cx="319.00" cy="70.28" r="1.55" fill="#000"/>
<circle cx="339.50" cy="68.42" r="1.55" fill="#000"/>
<circle cx="360.50" cy="72.14" r="1.55" fill="#000"/>
<circle cx="298.50" cy="82.56" r="1.55" fill="#000"/>
<circle cx="319.00" cy="80.51" r="1.55" fill="#000"/>
<circle cx="339.50" cy="90.37" r="1.55" fill="#000"/>
<circle cx="360.50" cy="92.60" r="1.55" fill="#000"/>
<circle cx="298.50" cy="80.51" r="1.55" fill="#000"/>
<circle cx="319.00" cy="92.60" r="1.55" fill="#000"/>
<circle cx="339.50" cy="82.37" r="1.55" fill="#000"/>
<circle cx="360.50" cy="80.51" r="1.55" fill="#000"/>
<rect x="294.50" y="76.08" width="8.0" height="1.8" fill="#e4e4e4" stroke="#111" stroke-width="0.75"/>
<rect x="315.00" y="78.12" width="8.0" height="1.8" fill="#e4e4e4" stroke="#111" stroke-width="0.75"/>
<rect x="335.50" y="75.70" width="8.0" height="1.8" fill="#e4e4e4" stroke="#111" stroke-width="0.75"/>
<rect x="356.50" y="78.12" width="8.0" height="1.8" fill="#e4e4e4" stroke="#111" stroke-width="0.75"/>
<line x1="406.90" y1="27.50" x2="406.90" y2="121.35" stroke="#000" stroke-width="1.5" />
<line x1="406.20" y1="120.60" x2="500.50" y2="120.60" stroke="#000" stroke-width="1.5" />
<line x1="404.10" y1="120.60" x2="406.90" y2="120.60" stroke="#111" stroke-width="1.1" />
<text x="402.30" y="123.10" font-size="6.8" text-anchor="end" font-weight="bold" fill="#000" stroke="#000" stroke-width="0.28" >0</text>
<line x1="404.10" y1="102.00" x2="406.90" y2="102.00" stroke="#111" stroke-width="1.1" />
<text x="402.30" y="104.50" font-size="6.8" text-anchor="end" font-weight="bold" fill="#000" stroke="#000" stroke-width="0.28" >1</text>
<line x1="404.10" y1="83.40" x2="406.90" y2="83.40" stroke="#111" stroke-width="1.1" />
<text x="402.30" y="85.90" font-size="6.8" text-anchor="end" font-weight="bold" fill="#000" stroke="#000" stroke-width="0.28" >2</text>
<line x1="404.10" y1="64.80" x2="406.90" y2="64.80" stroke="#111" stroke-width="1.1" />
<text x="402.30" y="67.30" font-size="6.8" text-anchor="end" font-weight="bold" fill="#000" stroke="#000" stroke-width="0.28" >3</text>
<line x1="404.10" y1="46.20" x2="406.90" y2="46.20" stroke="#111" stroke-width="1.1" />
<text x="402.30" y="48.70" font-size="6.8" text-anchor="end" font-weight="bold" fill="#000" stroke="#000" stroke-width="0.28" >4</text>
<line x1="404.10" y1="27.60" x2="406.90" y2="27.60" stroke="#111" stroke-width="1.1" />
<text x="402.30" y="30.10" font-size="6.8" text-anchor="end" font-weight="bold" fill="#000" stroke="#000" stroke-width="0.28" >5</text>
<line x1="422.50" y1="120.60" x2="422.50" y2="123.80" stroke="#111" stroke-width="1.1" />
<text x="422.50" y="130.00" font-size="6.8" text-anchor="middle" font-weight="bold" fill="#000" stroke="#000" stroke-width="0.28" >0</text>
<line x1="442.50" y1="120.60" x2="442.50" y2="123.80" stroke="#111" stroke-width="1.1" />
<text x="442.50" y="130.00" font-size="6.8" text-anchor="middle" font-weight="bold" fill="#000" stroke="#000" stroke-width="0.28" >4</text>
<line x1="463.50" y1="120.60" x2="463.50" y2="123.80" stroke="#111" stroke-width="1.1" />
<text x="463.50" y="130.00" font-size="6.8" text-anchor="middle" font-weight="bold" fill="#000" stroke="#000" stroke-width="0.28" >8</text>
<line x1="484.50" y1="120.60" x2="484.50" y2="123.80" stroke="#111" stroke-width="1.1" />
<text x="484.50" y="130.00" font-size="6.8" text-anchor="middle" font-weight="bold" fill="#000" stroke="#000" stroke-width="0.28" >16</text>
<text x="441.80" y="25.70" font-size="9" text-anchor="middle" font-weight="bold" fill="#000" stroke="#000" stroke-width="0.32" >BS</text>
<text transform="translate(392.20,70.60) rotate(-90)" font-size="8.0" text-anchor="middle" font-weight="bold" stroke="#000" stroke-width="0.32">PG I/II Ratio</text>
<text x="489.00" y="116.30" font-size="5.4" text-anchor="end" font-weight="bold" fill="#333" stroke="#333" stroke-width="0.15" >(n=25)</text>
<text x="452.20" y="138.20" font-size="7.85" text-anchor="middle" font-weight="bold" fill="#000" stroke="#000" stroke-width="0.32" >weeks</text>
<polyline points="421.30,45.27 440.50,41.74 459.80,38.39 478.90,49.18" fill="none" stroke="#0a0a0a" stroke-width="1.05"/>
<polyline points="421.30,55.50 440.50,36.71 459.80,54.38 478.90,74.10" fill="none" stroke="#0a0a0a" stroke-width="1.05"/>
<polyline points="421.30,55.50 440.50,54.76 459.80,50.11 478.90,54.76" fill="none" stroke="#0a0a0a" stroke-width="1.05"/>
<polyline points="421.30,63.87 440.50,59.59 459.80,55.50 478.90,58.48" fill="none" stroke="#0a0a0a" stroke-width="1.05"/>
<polyline points="421.30,94.19 440.50,96.98 459.80,93.63 478.90,96.98" fill="none" stroke="#0a0a0a" stroke-width="1.05"/>
<polyline points="421.30,64.80 440.50,61.08 459.80,56.43 478.90,61.08" fill="none" stroke="#1e1e1e" stroke-width="0.72"/>
<polyline points="421.30,65.73 440.50,62.94 459.80,59.22 478.90,63.87" fill="none" stroke="#1e1e1e" stroke-width="0.72"/>
<polyline points="421.30,66.66 440.50,64.80 459.80,61.08 478.90,66.85" fill="none" stroke="#1e1e1e" stroke-width="0.72"/>
<polyline points="421.30,67.22 440.50,66.29 459.80,62.94 478.90,62.01" fill="none" stroke="#1e1e1e" stroke-width="0.72"/>
<polyline points="421.30,67.96 440.50,67.03 459.80,64.80 478.90,69.45" fill="none" stroke="#1e1e1e" stroke-width="0.72"/>
<polyline points="421.30,69.45 440.50,62.01 459.80,57.36 478.90,71.12" fill="none" stroke="#1e1e1e" stroke-width="0.72"/>
<polyline points="421.30,74.84 440.50,73.36 459.80,55.50 478.90,59.22" fill="none" stroke="#1e1e1e" stroke-width="0.72"/>
<polyline points="421.30,78.56 440.50,78.94 459.80,75.22 478.90,75.96" fill="none" stroke="#1e1e1e" stroke-width="0.72"/>
<polyline points="421.30,70.38 440.50,79.68 459.80,80.98 478.90,83.40" fill="none" stroke="#1e1e1e" stroke-width="0.72"/>
<polyline points="421.30,81.54 440.50,70.38 459.80,63.87 478.90,67.59" fill="none" stroke="#1e1e1e" stroke-width="0.72"/>
<polyline points="421.30,81.17 440.50,82.47 459.80,81.54 478.90,84.52" fill="none" stroke="#1e1e1e" stroke-width="0.72"/>
<polyline points="421.30,82.47 440.50,79.87 459.80,83.40 478.90,86.19" fill="none" stroke="#1e1e1e" stroke-width="0.72"/>
<polyline points="421.30,83.40 440.50,85.26 459.80,84.33 478.90,88.05" fill="none" stroke="#1e1e1e" stroke-width="0.72"/>
<polyline points="421.30,84.89 440.50,87.12 459.80,82.47 478.90,90.84" fill="none" stroke="#1e1e1e" stroke-width="0.72"/>
<polyline points="421.30,86.19 440.50,83.40 459.80,86.19 478.90,88.98" fill="none" stroke="#1e1e1e" stroke-width="0.72"/>
<polyline points="421.30,88.05 440.50,90.47 459.80,87.12 478.90,93.63" fill="none" stroke="#1e1e1e" stroke-width="0.72"/>
<polyline points="421.30,89.35 440.50,88.05 459.80,88.24 478.90,91.77" fill="none" stroke="#1e1e1e" stroke-width="0.72"/>
<polyline points="421.30,90.84 440.50,88.98 459.80,85.26 478.90,95.49" fill="none" stroke="#1e1e1e" stroke-width="0.72"/>
<polyline points="421.30,94.37 440.50,89.91 459.80,89.17 478.90,92.70" fill="none" stroke="#1e1e1e" stroke-width="0.72"/>
<polyline points="421.30,84.33 440.50,81.54 459.80,87.86 478.90,85.26" fill="none" stroke="#1e1e1e" stroke-width="0.72"/>
<circle cx="421.30" cy="45.27" r="1.55" fill="#000"/>
<circle cx="440.50" cy="41.74" r="1.55" fill="#000"/>
<circle cx="459.80" cy="38.39" r="1.55" fill="#000"/>
<circle cx="478.90" cy="49.18" r="1.55" fill="#000"/>
<circle cx="421.30" cy="55.50" r="1.55" fill="#000"/>
<circle cx="440.50" cy="36.71" r="1.55" fill="#000"/>
<circle cx="459.80" cy="54.38" r="1.55" fill="#000"/>
<circle cx="478.90" cy="74.10" r="1.55" fill="#000"/>
<circle cx="421.30" cy="55.50" r="1.55" fill="#000"/>
<circle cx="440.50" cy="54.76" r="1.55" fill="#000"/>
<circle cx="459.80" cy="50.11" r="1.55" fill="#000"/>
<circle cx="478.90" cy="54.76" r="1.55" fill="#000"/>
<circle cx="421.30" cy="63.87" r="1.55" fill="#000"/>
<circle cx="440.50" cy="59.59" r="1.55" fill="#000"/>
<circle cx="459.80" cy="55.50" r="1.55" fill="#000"/>
<circle cx="478.90" cy="58.48" r="1.55" fill="#000"/>
<circle cx="421.30" cy="94.19" r="1.55" fill="#000"/>
<circle cx="440.50" cy="96.98" r="1.55" fill="#000"/>
<circle cx="459.80" cy="93.63" r="1.55" fill="#000"/>
<circle cx="478.90" cy="96.98" r="1.55" fill="#000"/>
<circle cx="421.30" cy="64.80" r="1.55" fill="#000"/>
<circle cx="440.50" cy="61.08" r="1.55" fill="#000"/>
<circle cx="459.80" cy="56.43" r="1.55" fill="#000"/>
<circle cx="478.90" cy="61.08" r="1.55" fill="#000"/>
<circle cx="421.30" cy="65.73" r="1.55" fill="#000"/>
<circle cx="440.50" cy="62.94" r="1.55" fill="#000"/>
<circle cx="459.80" cy="59.22" r="1.55" fill="#000"/>
<circle cx="478.90" cy="63.87" r="1.55" fill="#000"/>
<circle cx="421.30" cy="66.66" r="1.55" fill="#000"/>
<circle cx="440.50" cy="64.80" r="1.55" fill="#000"/>
<circle cx="459.80" cy="61.08" r="1.55" fill="#000"/>
<circle cx="478.90" cy="66.85" r="1.55" fill="#000"/>
<circle cx="421.30" cy="67.22" r="1.55" fill="#000"/>
<circle cx="440.50" cy="66.29" r="1.55" fill="#000"/>
<circle cx="459.80" cy="62.94" r="1.55" fill="#000"/>
<circle cx="478.90" cy="62.01" r="1.55" fill="#000"/>
<circle cx="421.30" cy="67.96" r="1.55" fill="#000"/>
<circle cx="440.50" cy="67.03" r="1.55" fill="#000"/>
<circle cx="459.80" cy="64.80" r="1.55" fill="#000"/>
<circle cx="478.90" cy="69.45" r="1.55" fill="#000"/>
<circle cx="421.30" cy="69.45" r="1.55" fill="#000"/>
<circle cx="440.50" cy="62.01" r="1.55" fill="#000"/>
<circle cx="459.80" cy="57.36" r="1.55" fill="#000"/>
<circle cx="478.90" cy="71.12" r="1.55" fill="#000"/>
<circle cx="421.30" cy="74.84" r="1.55" fill="#000"/>
<circle cx="440.50" cy="73.36" r="1.55" fill="#000"/>
<circle cx="459.80" cy="55.50" r="1.55" fill="#000"/>
<circle cx="478.90" cy="59.22" r="1.55" fill="#000"/>
<circle cx="421.30" cy="78.56" r="1.55" fill="#000"/>
<circle cx="440.50" cy="78.94" r="1.55" fill="#000"/>
<circle cx="459.80" cy="75.22" r="1.55" fill="#000"/>
<circle cx="478.90" cy="75.96" r="1.55" fill="#000"/>
<circle cx="421.30" cy="70.38" r="1.55" fill="#000"/>
<circle cx="440.50" cy="79.68" r="1.55" fill="#000"/>
<circle cx="459.80" cy="80.98" r="1.55" fill="#000"/>
<circle cx="478.90" cy="83.40" r="1.55" fill="#000"/>
<circle cx="421.30" cy="81.54" r="1.55" fill="#000"/>
<circle cx="440.50" cy="70.38" r="1.55" fill="#000"/>
<circle cx="459.80" cy="63.87" r="1.55" fill="#000"/>
<circle cx="478.90" cy="67.59" r="1.55" fill="#000"/>
<circle cx="421.30" cy="81.17" r="1.55" fill="#000"/>
<circle cx="440.50" cy="82.47" r="1.55" fill="#000"/>
<circle cx="459.80" cy="81.54" r="1.55" fill="#000"/>
<circle cx="478.90" cy="84.52" r="1.55" fill="#000"/>
<circle cx="421.30" cy="82.47" r="1.55" fill="#000"/>
<circle cx="440.50" cy="79.87" r="1.55" fill="#000"/>
<circle cx="459.80" cy="83.40" r="1.55" fill="#000"/>
<circle cx="478.90" cy="86.19" r="1.55" fill="#000"/>
<circle cx="421.30" cy="83.40" r="1.55" fill="#000"/>
<circle cx="440.50" cy="85.26" r="1.55" fill="#000"/>
<circle cx="459.80" cy="84.33" r="1.55" fill="#000"/>
<circle cx="478.90" cy="88.05" r="1.55" fill="#000"/>
<circle cx="421.30" cy="84.89" r="1.55" fill="#000"/>
<circle cx="440.50" cy="87.12" r="1.55" fill="#000"/>
<circle cx="459.80" cy="82.47" r="1.55" fill="#000"/>
<circle cx="478.90" cy="90.84" r="1.55" fill="#000"/>
<circle cx="421.30" cy="86.19" r="1.55" fill="#000"/>
<circle cx="440.50" cy="83.40" r="1.55" fill="#000"/>
<circle cx="459.80" cy="86.19" r="1.55" fill="#000"/>
<circle cx="478.90" cy="88.98" r="1.55" fill="#000"/>
<circle cx="421.30" cy="88.05" r="1.55" fill="#000"/>
<circle cx="440.50" cy="90.47" r="1.55" fill="#000"/>
<circle cx="459.80" cy="87.12" r="1.55" fill="#000"/>
<circle cx="478.90" cy="93.63" r="1.55" fill="#000"/>
<circle cx="421.30" cy="89.35" r="1.55" fill="#000"/>
<circle cx="440.50" cy="88.05" r="1.55" fill="#000"/>
<circle cx="459.80" cy="88.24" r="1.55" fill="#000"/>
<circle cx="478.90" cy="91.77" r="1.55" fill="#000"/>
<circle cx="421.30" cy="90.84" r="1.55" fill="#000"/>
<circle cx="440.50" cy="88.98" r="1.55" fill="#000"/>
<circle cx="459.80" cy="85.26" r="1.55" fill="#000"/>
<circle cx="478.90" cy="95.49" r="1.55" fill="#000"/>
<circle cx="421.30" cy="94.37" r="1.55" fill="#000"/>
<circle cx="440.50" cy="89.91" r="1.55" fill="#000"/>
<circle cx="459.80" cy="89.17" r="1.55" fill="#000"/>
<circle cx="478.90" cy="92.70" r="1.55" fill="#000"/>
<circle cx="421.30" cy="84.33" r="1.55" fill="#000"/>
<circle cx="440.50" cy="81.54" r="1.55" fill="#000"/>
<circle cx="459.80" cy="87.86" r="1.55" fill="#000"/>
<circle cx="478.90" cy="85.26" r="1.55" fill="#000"/>
<rect x="415.60" y="73.85" width="7.6" height="1.8" fill="#eee" stroke="#111" stroke-width="0.75"/>
<rect x="436.70" y="69.29" width="7.6" height="1.8" fill="#eee" stroke="#111" stroke-width="0.75"/>
<rect x="456.00" y="67.25" width="7.6" height="1.8" fill="#eee" stroke="#111" stroke-width="0.75"/>
<rect x="475.10" y="75.43" width="7.6" height="1.8" fill="#eee" stroke="#111" stroke-width="0.75"/>
<line x1="72.60" y1="164.30" x2="72.60" y2="259.55" stroke="#000" stroke-width="1.5" />
<line x1="71.90" y1="258.80" x2="158.00" y2="258.80" stroke="#000" stroke-width="1.5" />
<line x1="69.80" y1="258.80" x2="72.60" y2="258.80" stroke="#111" stroke-width="1.1" />
<text x="68.00" y="261.30" font-size="6.8" text-anchor="end" font-weight="bold" fill="#000" stroke="#000" stroke-width="0.28" >0</text>
<line x1="69.80" y1="244.26" x2="72.60" y2="244.26" stroke="#111" stroke-width="1.1" />
<text x="68.00" y="246.76" font-size="6.8" text-anchor="end" font-weight="bold" fill="#000" stroke="#000" stroke-width="0.28" >10</text>
<line x1="69.80" y1="229.72" x2="72.60" y2="229.72" stroke="#111" stroke-width="1.1" />
<text x="68.00" y="232.22" font-size="6.8" text-anchor="end" font-weight="bold" fill="#000" stroke="#000" stroke-width="0.28" >20</text>
<line x1="69.80" y1="215.18" x2="72.60" y2="215.18" stroke="#111" stroke-width="1.1" />
<text x="68.00" y="217.68" font-size="6.8" text-anchor="end" font-weight="bold" fill="#000" stroke="#000" stroke-width="0.28" >30</text>
<line x1="69.80" y1="200.64" x2="72.60" y2="200.64" stroke="#111" stroke-width="1.1" />
<text x="68.00" y="203.14" font-size="6.8" text-anchor="end" font-weight="bold" fill="#000" stroke="#000" stroke-width="0.28" >40</text>
<line x1="69.80" y1="186.10" x2="72.60" y2="186.10" stroke="#111" stroke-width="1.1" />
<text x="68.00" y="188.60" font-size="6.8" text-anchor="end" font-weight="bold" fill="#000" stroke="#000" stroke-width="0.28" >50</text>
<line x1="69.80" y1="171.56" x2="72.60" y2="171.56" stroke="#111" stroke-width="1.1" />
<text x="68.00" y="174.06" font-size="6.8" text-anchor="end" font-weight="bold" fill="#000" stroke="#000" stroke-width="0.28" >60</text>
<line x1="86.50" y1="258.80" x2="86.50" y2="262.00" stroke="#111" stroke-width="1.1" />
<text x="86.50" y="270.00" font-size="6.8" text-anchor="middle" font-weight="bold" fill="#000" stroke="#000" stroke-width="0.28" >0</text>
<line x1="105.50" y1="258.80" x2="105.50" y2="262.00" stroke="#111" stroke-width="1.1" />
<text x="105.50" y="270.00" font-size="6.8" text-anchor="middle" font-weight="bold" fill="#000" stroke="#000" stroke-width="0.28" >4</text>
<line x1="124.50" y1="258.80" x2="124.50" y2="262.00" stroke="#111" stroke-width="1.1" />
<text x="124.50" y="270.00" font-size="6.8" text-anchor="middle" font-weight="bold" fill="#000" stroke="#000" stroke-width="0.28" >8</text>
<line x1="143.20" y1="258.80" x2="143.20" y2="262.00" stroke="#111" stroke-width="1.1" />
<text x="143.20" y="270.00" font-size="6.8" text-anchor="middle" font-weight="bold" fill="#000" stroke="#000" stroke-width="0.28" >16</text>
<text x="117.20" y="167.20" font-size="9" text-anchor="middle" font-weight="bold" fill="#000" stroke="#000" stroke-width="0.32" >AS</text>
<text transform="translate(53.00,211.50) rotate(-90)" font-size="8.0" text-anchor="middle" font-weight="bold" stroke="#000" stroke-width="0.32">PG II (ng/ml)</text>
<text x="154.50" y="253.20" font-size="5.4" text-anchor="end" font-weight="bold" fill="#333" stroke="#333" stroke-width="0.15" >(n=23)</text>
<text x="115.00" y="278.10" font-size="7.85" text-anchor="middle" font-weight="bold" fill="#000" stroke="#000" stroke-width="0.32" >weeks</text>
<polyline points="86.50,182.47 105.50,173.89 124.50,183.19 143.20,168.80" fill="none" stroke="#0a0a0a" stroke-width="1.05"/>
<polyline points="86.50,192.93 105.50,177.38 124.50,191.04 143.20,188.43" fill="none" stroke="#0a0a0a" stroke-width="1.05"/>
<polyline points="86.50,195.26 105.50,190.75 124.50,183.77 143.20,186.68" fill="none" stroke="#0a0a0a" stroke-width="1.05"/>
<polyline points="86.50,203.11 105.50,201.51 124.50,200.06 143.20,195.70" fill="none" stroke="#0a0a0a" stroke-width="1.05"/>
<polyline points="86.50,205.58 105.50,207.33 124.50,203.69 143.20,200.06" fill="none" stroke="#0a0a0a" stroke-width="1.05"/>
<polyline points="86.50,233.21 105.50,237.72 124.50,236.26 143.20,232.05" fill="none" stroke="#0a0a0a" stroke-width="1.05"/>
<polyline points="86.50,216.63 105.50,203.55 124.50,210.82 143.20,218.09" fill="none" stroke="#1e1e1e" stroke-width="0.72"/>
<polyline points="86.50,218.09 105.50,206.46 124.50,217.65 143.20,210.82" fill="none" stroke="#1e1e1e" stroke-width="0.72"/>
<polyline points="86.50,219.54 105.50,209.36 124.50,215.18 143.20,205.00" fill="none" stroke="#1e1e1e" stroke-width="0.72"/>
<polyline points="86.50,221.00 105.50,217.65 124.50,222.45 143.20,222.45" fill="none" stroke="#1e1e1e" stroke-width="0.72"/>
<polyline points="86.50,222.45 105.50,205.00 124.50,223.90 143.20,215.18" fill="none" stroke="#1e1e1e" stroke-width="0.72"/>
<polyline points="86.50,223.90 105.50,202.09 124.50,212.27 143.20,220.27" fill="none" stroke="#1e1e1e" stroke-width="0.72"/>
<polyline points="86.50,224.63 105.50,210.82 124.50,219.54 143.20,217.65" fill="none" stroke="#1e1e1e" stroke-width="0.72"/>
<polyline points="86.50,226.09 105.50,223.90 124.50,226.81 143.20,223.90" fill="none" stroke="#1e1e1e" stroke-width="0.72"/>
<polyline points="86.50,227.54 105.50,207.91 124.50,207.91 143.20,226.81" fill="none" stroke="#1e1e1e" stroke-width="0.72"/>
<polyline points="86.50,228.27 105.50,226.81 124.50,231.17 143.20,219.54" fill="none" stroke="#1e1e1e" stroke-width="0.72"/>
<polyline points="86.50,228.99 105.50,229.72 124.50,228.27 143.20,228.27" fill="none" stroke="#1e1e1e" stroke-width="0.72"/>
<polyline points="86.50,230.01 105.50,214.45 124.50,221.00 143.20,225.36" fill="none" stroke="#1e1e1e" stroke-width="0.72"/>
<polyline points="86.50,230.88 105.50,225.36 124.50,232.63 143.20,230.30" fill="none" stroke="#1e1e1e" stroke-width="0.72"/>
<polyline points="86.50,231.76 105.50,231.90 124.50,234.81 143.20,226.09" fill="none" stroke="#1e1e1e" stroke-width="0.72"/>
<polyline points="86.50,232.63 105.50,221.00 124.50,224.63 143.20,228.99" fill="none" stroke="#1e1e1e" stroke-width="0.72"/>
<polyline points="86.50,215.18 105.50,220.27 124.50,205.87 143.20,213.00" fill="none" stroke="#1e1e1e" stroke-width="0.72"/>
<polyline points="86.50,218.81 105.50,232.63 124.50,229.72 143.20,207.91" fill="none" stroke="#1e1e1e" stroke-width="0.72"/>
<circle cx="86.50" cy="182.47" r="1.55" fill="#000"/>
<circle cx="105.50" cy="173.89" r="1.55" fill="#000"/>
<circle cx="124.50" cy="183.19" r="1.55" fill="#000"/>
<circle cx="143.20" cy="168.80" r="1.55" fill="#000"/>
<circle cx="86.50" cy="192.93" r="1.55" fill="#000"/>
<circle cx="105.50" cy="177.38" r="1.55" fill="#000"/>
<circle cx="124.50" cy="191.04" r="1.55" fill="#000"/>
<circle cx="143.20" cy="188.43" r="1.55" fill="#000"/>
<circle cx="86.50" cy="195.26" r="1.55" fill="#000"/>
<circle cx="105.50" cy="190.75" r="1.55" fill="#000"/>
<circle cx="124.50" cy="183.77" r="1.55" fill="#000"/>
<circle cx="143.20" cy="186.68" r="1.55" fill="#000"/>
<circle cx="86.50" cy="203.11" r="1.55" fill="#000"/>
<circle cx="105.50" cy="201.51" r="1.55" fill="#000"/>
<circle cx="124.50" cy="200.06" r="1.55" fill="#000"/>
<circle cx="143.20" cy="195.70" r="1.55" fill="#000"/>
<circle cx="86.50" cy="205.58" r="1.55" fill="#000"/>
<circle cx="105.50" cy="207.33" r="1.55" fill="#000"/>
<circle cx="124.50" cy="203.69" r="1.55" fill="#000"/>
<circle cx="143.20" cy="200.06" r="1.55" fill="#000"/>
<circle cx="86.50" cy="233.21" r="1.55" fill="#000"/>
<circle cx="105.50" cy="237.72" r="1.55" fill="#000"/>
<circle cx="124.50" cy="236.26" r="1.55" fill="#000"/>
<circle cx="143.20" cy="232.05" r="1.55" fill="#000"/>
<circle cx="86.50" cy="216.63" r="1.55" fill="#000"/>
<circle cx="105.50" cy="203.55" r="1.55" fill="#000"/>
<circle cx="124.50" cy="210.82" r="1.55" fill="#000"/>
<circle cx="143.20" cy="218.09" r="1.55" fill="#000"/>
<circle cx="86.50" cy="218.09" r="1.55" fill="#000"/>
<circle cx="105.50" cy="206.46" r="1.55" fill="#000"/>
<circle cx="124.50" cy="217.65" r="1.55" fill="#000"/>
<circle cx="143.20" cy="210.82" r="1.55" fill="#000"/>
<circle cx="86.50" cy="219.54" r="1.55" fill="#000"/>
<circle cx="105.50" cy="209.36" r="1.55" fill="#000"/>
<circle cx="124.50" cy="215.18" r="1.55" fill="#000"/>
<circle cx="143.20" cy="205.00" r="1.55" fill="#000"/>
<circle cx="86.50" cy="221.00" r="1.55" fill="#000"/>
<circle cx="105.50" cy="217.65" r="1.55" fill="#000"/>
<circle cx="124.50" cy="222.45" r="1.55" fill="#000"/>
<circle cx="143.20" cy="222.45" r="1.55" fill="#000"/>
<circle cx="86.50" cy="222.45" r="1.55" fill="#000"/>
<circle cx="105.50" cy="205.00" r="1.55" fill="#000"/>
<circle cx="124.50" cy="223.90" r="1.55" fill="#000"/>
<circle cx="143.20" cy="215.18" r="1.55" fill="#000"/>
<circle cx="86.50" cy="223.90" r="1.55" fill="#000"/>
<circle cx="105.50" cy="202.09" r="1.55" fill="#000"/>
<circle cx="124.50" cy="212.27" r="1.55" fill="#000"/>
<circle cx="143.20" cy="220.27" r="1.55" fill="#000"/>
<circle cx="86.50" cy="224.63" r="1.55" fill="#000"/>
<circle cx="105.50" cy="210.82" r="1.55" fill="#000"/>
<circle cx="124.50" cy="219.54" r="1.55" fill="#000"/>
<circle cx="143.20" cy="217.65" r="1.55" fill="#000"/>
<circle cx="86.50" cy="226.09" r="1.55" fill="#000"/>
<circle cx="105.50" cy="223.90" r="1.55" fill="#000"/>
<circle cx="124.50" cy="226.81" r="1.55" fill="#000"/>
<circle cx="143.20" cy="223.90" r="1.55" fill="#000"/>
<circle cx="86.50" cy="227.54" r="1.55" fill="#000"/>
<circle cx="105.50" cy="207.91" r="1.55" fill="#000"/>
<circle cx="124.50" cy="207.91" r="1.55" fill="#000"/>
<circle cx="143.20" cy="226.81" r="1.55" fill="#000"/>
<circle cx="86.50" cy="228.27" r="1.55" fill="#000"/>
<circle cx="105.50" cy="226.81" r="1.55" fill="#000"/>
<circle cx="124.50" cy="231.17" r="1.55" fill="#000"/>
<circle cx="143.20" cy="219.54" r="1.55" fill="#000"/>
<circle cx="86.50" cy="228.99" r="1.55" fill="#000"/>
<circle cx="105.50" cy="229.72" r="1.55" fill="#000"/>
<circle cx="124.50" cy="228.27" r="1.55" fill="#000"/>
<circle cx="143.20" cy="228.27" r="1.55" fill="#000"/>
<circle cx="86.50" cy="230.01" r="1.55" fill="#000"/>
<circle cx="105.50" cy="214.45" r="1.55" fill="#000"/>
<circle cx="124.50" cy="221.00" r="1.55" fill="#000"/>
<circle cx="143.20" cy="225.36" r="1.55" fill="#000"/>
<circle cx="86.50" cy="230.88" r="1.55" fill="#000"/>
<circle cx="105.50" cy="225.36" r="1.55" fill="#000"/>
<circle cx="124.50" cy="232.63" r="1.55" fill="#000"/>
<circle cx="143.20" cy="230.30" r="1.55" fill="#000"/>
<circle cx="86.50" cy="231.76" r="1.55" fill="#000"/>
<circle cx="105.50" cy="231.90" r="1.55" fill="#000"/>
<circle cx="124.50" cy="234.81" r="1.55" fill="#000"/>
<circle cx="143.20" cy="226.09" r="1.55" fill="#000"/>
<circle cx="86.50" cy="232.63" r="1.55" fill="#000"/>
<circle cx="105.50" cy="221.00" r="1.55" fill="#000"/>
<circle cx="124.50" cy="224.63" r="1.55" fill="#000"/>
<circle cx="143.20" cy="228.99" r="1.55" fill="#000"/>
<circle cx="86.50" cy="215.18" r="1.55" fill="#000"/>
<circle cx="105.50" cy="220.27" r="1.55" fill="#000"/>
<circle cx="124.50" cy="205.87" r="1.55" fill="#000"/>
<circle cx="143.20" cy="213.00" r="1.55" fill="#000"/>
<circle cx="86.50" cy="218.81" r="1.55" fill="#000"/>
<circle cx="105.50" cy="232.63" r="1.55" fill="#000"/>
<circle cx="124.50" cy="229.72" r="1.55" fill="#000"/>
<circle cx="143.20" cy="207.91" r="1.55" fill="#000"/>
<rect x="81.10" y="213.54" width="9.6" height="2.4" fill="#fff" stroke="#111" stroke-width="0.75"/>
<rect x="100.10" y="213.54" width="9.6" height="2.4" fill="#fff" stroke="#111" stroke-width="0.75"/>
<rect x="119.70" y="213.69" width="9.6" height="2.4" fill="#fff" stroke="#111" stroke-width="0.75"/>
<rect x="138.40" y="213.69" width="9.6" height="2.4" fill="#fff" stroke="#111" stroke-width="0.75"/>
<line x1="186.90" y1="167.50" x2="186.90" y2="260.35" stroke="#000" stroke-width="1.5" />
<line x1="186.20" y1="259.60" x2="272.50" y2="259.60" stroke="#000" stroke-width="1.5" />
<line x1="184.10" y1="259.60" x2="186.90" y2="259.60" stroke="#111" stroke-width="1.1" />
<text x="182.30" y="262.10" font-size="6.8" text-anchor="end" font-weight="bold" fill="#000" stroke="#000" stroke-width="0.28" >0</text>
<line x1="184.10" y1="244.35" x2="186.90" y2="244.35" stroke="#111" stroke-width="1.1" />
<text x="182.30" y="246.85" font-size="6.8" text-anchor="end" font-weight="bold" fill="#000" stroke="#000" stroke-width="0.28" >10</text>
<line x1="184.10" y1="229.10" x2="186.90" y2="229.10" stroke="#111" stroke-width="1.1" />
<text x="182.30" y="231.60" font-size="6.8" text-anchor="end" font-weight="bold" fill="#000" stroke="#000" stroke-width="0.28" >20</text>
<line x1="184.10" y1="213.85" x2="186.90" y2="213.85" stroke="#111" stroke-width="1.1" />
<text x="182.30" y="216.35" font-size="6.8" text-anchor="end" font-weight="bold" fill="#000" stroke="#000" stroke-width="0.28" >30</text>
<line x1="184.10" y1="198.60" x2="186.90" y2="198.60" stroke="#111" stroke-width="1.1" />
<text x="182.30" y="201.10" font-size="6.8" text-anchor="end" font-weight="bold" fill="#000" stroke="#000" stroke-width="0.28" >40</text>
<line x1="184.10" y1="183.35" x2="186.90" y2="183.35" stroke="#111" stroke-width="1.1" />
<text x="182.30" y="185.85" font-size="6.8" text-anchor="end" font-weight="bold" fill="#000" stroke="#000" stroke-width="0.28" >50</text>
<line x1="184.10" y1="168.10" x2="186.90" y2="168.10" stroke="#111" stroke-width="1.1" />
<text x="182.30" y="170.60" font-size="6.8" text-anchor="end" font-weight="bold" fill="#000" stroke="#000" stroke-width="0.28" >60</text>
<line x1="201.00" y1="259.60" x2="201.00" y2="262.80" stroke="#111" stroke-width="1.1" />
<text x="201.00" y="270.40" font-size="6.8" text-anchor="middle" font-weight="bold" fill="#000" stroke="#000" stroke-width="0.28" >0</text>
<line x1="220.00" y1="259.60" x2="220.00" y2="262.80" stroke="#111" stroke-width="1.1" />
<text x="220.00" y="270.40" font-size="6.8" text-anchor="middle" font-weight="bold" fill="#000" stroke="#000" stroke-width="0.28" >4</text>
<line x1="238.80" y1="259.60" x2="238.80" y2="262.80" stroke="#111" stroke-width="1.1" />
<text x="238.80" y="270.40" font-size="6.8" text-anchor="middle" font-weight="bold" fill="#000" stroke="#000" stroke-width="0.28" >8</text>
<line x1="257.50" y1="259.60" x2="257.50" y2="262.80" stroke="#111" stroke-width="1.1" />
<text x="257.50" y="270.40" font-size="6.8" text-anchor="middle" font-weight="bold" fill="#000" stroke="#000" stroke-width="0.28" >16</text>
<text x="227.90" y="167.40" font-size="9" text-anchor="middle" font-weight="bold" fill="#000" stroke="#000" stroke-width="0.32" >BS</text>
<text transform="translate(169.40,211.50) rotate(-90)" font-size="8.0" text-anchor="middle" font-weight="bold" stroke="#000" stroke-width="0.32">PG II (ng/ml)</text>
<text x="271.80" y="253.20" font-size="5.4" text-anchor="end" font-weight="bold" fill="#333" stroke="#333" stroke-width="0.15" >(n=25)</text>
<text x="225.00" y="278.10" font-size="7.85" text-anchor="middle" font-weight="bold" fill="#000" stroke="#000" stroke-width="0.32" >weeks</text>
<polyline points="201.00,184.72 220.00,193.42 238.80,200.28 257.50,205.01" fill="none" stroke="#0a0a0a" stroke-width="1.05"/>
<polyline points="201.00,192.35 220.00,193.42 238.80,194.64 257.50,190.67" fill="none" stroke="#0a0a0a" stroke-width="1.05"/>
<polyline points="201.00,193.26 220.00,195.55 238.80,194.64 257.50,195.70" fill="none" stroke="#0a0a0a" stroke-width="1.05"/>
<polyline points="201.00,194.64 220.00,203.79 238.80,216.14 257.50,177.86" fill="none" stroke="#0a0a0a" stroke-width="1.05"/>
<polyline points="201.00,197.99 220.00,203.79 238.80,214.16 257.50,198.60" fill="none" stroke="#1e1e1e" stroke-width="0.72"/>
<polyline points="201.00,200.89 220.00,209.58 238.80,217.66 257.50,201.65" fill="none" stroke="#1e1e1e" stroke-width="0.72"/>
<polyline points="201.00,204.70 220.00,212.33 238.80,207.29 257.50,204.70" fill="none" stroke="#1e1e1e" stroke-width="0.72"/>
<polyline points="201.00,197.99 220.00,195.55 238.80,204.70 257.50,195.70" fill="none" stroke="#1e1e1e" stroke-width="0.72"/>
<polyline points="201.00,205.01 220.00,212.94 238.80,214.16 257.50,218.43" fill="none" stroke="#1e1e1e" stroke-width="0.72"/>
<polyline points="201.00,211.87 220.00,212.94 238.80,216.14 257.50,221.48" fill="none" stroke="#1e1e1e" stroke-width="0.72"/>
<polyline points="201.00,214.61 220.00,209.58 238.80,217.66 257.50,223.46" fill="none" stroke="#1e1e1e" stroke-width="0.72"/>
<polyline points="201.00,215.38 220.00,214.61 238.80,214.16 257.50,215.38" fill="none" stroke="#1e1e1e" stroke-width="0.72"/>
<polyline points="201.00,193.26 220.00,203.79 238.80,207.29 257.50,209.28" fill="none" stroke="#1e1e1e" stroke-width="0.72"/>
<polyline points="201.00,201.65 220.00,195.55 238.80,204.70 257.50,201.65" fill="none" stroke="#1e1e1e" stroke-width="0.72"/>
<polyline points="201.00,204.70 220.00,209.58 238.80,200.28 257.50,195.70" fill="none" stroke="#1e1e1e" stroke-width="0.72"/>
<polyline points="201.00,211.87 220.00,212.94 238.80,217.66 257.50,215.38" fill="none" stroke="#1e1e1e" stroke-width="0.72"/>
<polyline points="201.00,222.24 220.00,224.53 238.80,228.03 257.50,223.46" fill="none" stroke="#1e1e1e" stroke-width="0.72"/>
<polyline points="201.00,223.00 220.00,224.53 238.80,228.03 257.50,222.24" fill="none" stroke="#1e1e1e" stroke-width="0.72"/>
<polyline points="201.00,224.53 220.00,229.10 238.80,229.86 257.50,223.46" fill="none" stroke="#1e1e1e" stroke-width="0.72"/>
<polyline points="201.00,229.10 220.00,229.10 238.80,232.15 257.50,230.32" fill="none" stroke="#1e1e1e" stroke-width="0.72"/>
<polyline points="201.00,229.10 220.00,224.53 238.80,232.61 257.50,230.32" fill="none" stroke="#1e1e1e" stroke-width="0.72"/>
<polyline points="201.00,235.96 220.00,235.96 238.80,237.18 257.50,235.96" fill="none" stroke="#1e1e1e" stroke-width="0.72"/>
<polyline points="201.00,236.73 220.00,235.96 238.80,241.45 257.50,235.96" fill="none" stroke="#1e1e1e" stroke-width="0.72"/>
<polyline points="201.00,237.18 220.00,236.73 238.80,237.18 257.50,233.68" fill="none" stroke="#1e1e1e" stroke-width="0.72"/>
<polyline points="201.00,223.76 220.00,229.10 238.80,232.61 257.50,226.05" fill="none" stroke="#1e1e1e" stroke-width="0.72"/>
<circle cx="201.00" cy="184.72" r="1.55" fill="#000"/>
<circle cx="220.00" cy="193.42" r="1.55" fill="#000"/>
<circle cx="238.80" cy="200.28" r="1.55" fill="#000"/>
<circle cx="257.50" cy="205.01" r="1.55" fill="#000"/>
<circle cx="201.00" cy="192.35" r="1.55" fill="#000"/>
<circle cx="220.00" cy="193.42" r="1.55" fill="#000"/>
<circle cx="238.80" cy="194.64" r="1.55" fill="#000"/>
<circle cx="257.50" cy="190.67" r="1.55" fill="#000"/>
<circle cx="201.00" cy="193.26" r="1.55" fill="#000"/>
<circle cx="220.00" cy="195.55" r="1.55" fill="#000"/>
<circle cx="238.80" cy="194.64" r="1.55" fill="#000"/>
<circle cx="257.50" cy="195.70" r="1.55" fill="#000"/>
<circle cx="201.00" cy="194.64" r="1.55" fill="#000"/>
<circle cx="220.00" cy="203.79" r="1.55" fill="#000"/>
<circle cx="238.80" cy="216.14" r="1.55" fill="#000"/>
<circle cx="257.50" cy="177.86" r="1.55" fill="#000"/>
<circle cx="201.00" cy="197.99" r="1.55" fill="#000"/>
<circle cx="220.00" cy="203.79" r="1.55" fill="#000"/>
<circle cx="238.80" cy="214.16" r="1.55" fill="#000"/>
<circle cx="257.50" cy="198.60" r="1.55" fill="#000"/>
<circle cx="201.00" cy="200.89" r="1.55" fill="#000"/>
<circle cx="220.00" cy="209.58" r="1.55" fill="#000"/>
<circle cx="238.80" cy="217.66" r="1.55" fill="#000"/>
<circle cx="257.50" cy="201.65" r="1.55" fill="#000"/>
<circle cx="201.00" cy="204.70" r="1.55" fill="#000"/>
<circle cx="220.00" cy="212.33" r="1.55" fill="#000"/>
<circle cx="238.80" cy="207.29" r="1.55" fill="#000"/>
<circle cx="257.50" cy="204.70" r="1.55" fill="#000"/>
<circle cx="201.00" cy="197.99" r="1.55" fill="#000"/>
<circle cx="220.00" cy="195.55" r="1.55" fill="#000"/>
<circle cx="238.80" cy="204.70" r="1.55" fill="#000"/>
<circle cx="257.50" cy="195.70" r="1.55" fill="#000"/>
<circle cx="201.00" cy="205.01" r="1.55" fill="#000"/>
<circle cx="220.00" cy="212.94" r="1.55" fill="#000"/>
<circle cx="238.80" cy="214.16" r="1.55" fill="#000"/>
<circle cx="257.50" cy="218.43" r="1.55" fill="#000"/>
<circle cx="201.00" cy="211.87" r="1.55" fill="#000"/>
<circle cx="220.00" cy="212.94" r="1.55" fill="#000"/>
<circle cx="238.80" cy="216.14" r="1.55" fill="#000"/>
<circle cx="257.50" cy="221.48" r="1.55" fill="#000"/>
<circle cx="201.00" cy="214.61" r="1.55" fill="#000"/>
<circle cx="220.00" cy="209.58" r="1.55" fill="#000"/>
<circle cx="238.80" cy="217.66" r="1.55" fill="#000"/>
<circle cx="257.50" cy="223.46" r="1.55" fill="#000"/>
<circle cx="201.00" cy="215.38" r="1.55" fill="#000"/>
<circle cx="220.00" cy="214.61" r="1.55" fill="#000"/>
<circle cx="238.80" cy="214.16" r="1.55" fill="#000"/>
<circle cx="257.50" cy="215.38" r="1.55" fill="#000"/>
<circle cx="201.00" cy="193.26" r="1.55" fill="#000"/>
<circle cx="220.00" cy="203.79" r="1.55" fill="#000"/>
<circle cx="238.80" cy="207.29" r="1.55" fill="#000"/>
<circle cx="257.50" cy="209.28" r="1.55" fill="#000"/>
<circle cx="201.00" cy="201.65" r="1.55" fill="#000"/>
<circle cx="220.00" cy="195.55" r="1.55" fill="#000"/>
<circle cx="238.80" cy="204.70" r="1.55" fill="#000"/>
<circle cx="257.50" cy="201.65" r="1.55" fill="#000"/>
<circle cx="201.00" cy="204.70" r="1.55" fill="#000"/>
<circle cx="220.00" cy="209.58" r="1.55" fill="#000"/>
<circle cx="238.80" cy="200.28" r="1.55" fill="#000"/>
<circle cx="257.50" cy="195.70" r="1.55" fill="#000"/>
<circle cx="201.00" cy="211.87" r="1.55" fill="#000"/>
<circle cx="220.00" cy="212.94" r="1.55" fill="#000"/>
<circle cx="238.80" cy="217.66" r="1.55" fill="#000"/>
<circle cx="257.50" cy="215.38" r="1.55" fill="#000"/>
<circle cx="201.00" cy="222.24" r="1.55" fill="#000"/>
<circle cx="220.00" cy="224.53" r="1.55" fill="#000"/>
<circle cx="238.80" cy="228.03" r="1.55" fill="#000"/>
<circle cx="257.50" cy="223.46" r="1.55" fill="#000"/>
<circle cx="201.00" cy="223.00" r="1.55" fill="#000"/>
<circle cx="220.00" cy="224.53" r="1.55" fill="#000"/>
<circle cx="238.80" cy="228.03" r="1.55" fill="#000"/>
<circle cx="257.50" cy="222.24" r="1.55" fill="#000"/>
<circle cx="201.00" cy="224.53" r="1.55" fill="#000"/>
<circle cx="220.00" cy="229.10" r="1.55" fill="#000"/>
<circle cx="238.80" cy="229.86" r="1.55" fill="#000"/>
<circle cx="257.50" cy="223.46" r="1.55" fill="#000"/>
<circle cx="201.00" cy="229.10" r="1.55" fill="#000"/>
<circle cx="220.00" cy="229.10" r="1.55" fill="#000"/>
<circle cx="238.80" cy="232.15" r="1.55" fill="#000"/>
<circle cx="257.50" cy="230.32" r="1.55" fill="#000"/>
<circle cx="201.00" cy="229.10" r="1.55" fill="#000"/>
<circle cx="220.00" cy="224.53" r="1.55" fill="#000"/>
<circle cx="238.80" cy="232.61" r="1.55" fill="#000"/>
<circle cx="257.50" cy="230.32" r="1.55" fill="#000"/>
<circle cx="201.00" cy="235.96" r="1.55" fill="#000"/>
<circle cx="220.00" cy="235.96" r="1.55" fill="#000"/>
<circle cx="238.80" cy="237.18" r="1.55" fill="#000"/>
<circle cx="257.50" cy="235.96" r="1.55" fill="#000"/>
<circle cx="201.00" cy="236.73" r="1.55" fill="#000"/>
<circle cx="220.00" cy="235.96" r="1.55" fill="#000"/>
<circle cx="238.80" cy="241.45" r="1.55" fill="#000"/>
<circle cx="257.50" cy="235.96" r="1.55" fill="#000"/>
<circle cx="201.00" cy="237.18" r="1.55" fill="#000"/>
<circle cx="220.00" cy="236.73" r="1.55" fill="#000"/>
<circle cx="238.80" cy="237.18" r="1.55" fill="#000"/>
<circle cx="257.50" cy="233.68" r="1.55" fill="#000"/>
<circle cx="201.00" cy="223.76" r="1.55" fill="#000"/>
<circle cx="220.00" cy="229.10" r="1.55" fill="#000"/>
<circle cx="238.80" cy="232.61" r="1.55" fill="#000"/>
<circle cx="257.50" cy="226.05" r="1.55" fill="#000"/>
<rect x="195.50" y="208.84" width="8.4" height="2.4" fill="#fff" stroke="#111" stroke-width="0.75"/>
<rect x="215.80" y="218.14" width="8.4" height="2.4" fill="#fff" stroke="#111" stroke-width="0.75"/>
<rect x="234.60" y="219.97" width="8.4" height="2.4" fill="#fff" stroke="#111" stroke-width="0.75"/>
<rect x="253.30" y="208.38" width="8.4" height="2.4" fill="#fff" stroke="#111" stroke-width="0.75"/>
<text x="29.60" y="19.50" font-size="10.6" text-anchor="start" font-weight="bold" fill="#000" stroke="#000" stroke-width="0.32" >A</text>
<text x="262.00" y="19.60" font-size="10.6" text-anchor="start" font-weight="bold" fill="#000" stroke="#000" stroke-width="0.32" >C</text>
<text x="28.30" y="160.70" font-size="10.6" text-anchor="start" font-weight="bold" fill="#000" stroke="#000" stroke-width="0.32" >B</text>
<text x="298.60" y="160.70" font-size="10.6" text-anchor="start" font-weight="bold" fill="#000" stroke="#000" stroke-width="0.32" >D</text>
<line x1="343.40" y1="155.00" x2="343.40" y2="273.50" stroke="#444" stroke-width="1.0" />
<line x1="343.40" y1="273.00" x2="465.50" y2="273.00" stroke="#444" stroke-width="1.0" />
<line x1="343.40" y1="273.00" x2="345.40" y2="273.00" stroke="#444" stroke-width="0.8" />
<text x="341.00" y="275.50" font-size="6.8" text-anchor="end" font-weight="bold" fill="#000" stroke="#000" stroke-width="0.25" >-0.4</text>
<line x1="343.40" y1="253.40" x2="345.40" y2="253.40" stroke="#444" stroke-width="0.8" />
<text x="341.00" y="255.90" font-size="6.8" text-anchor="end" font-weight="bold" fill="#000" stroke="#000" stroke-width="0.25" >-0.2</text>
<line x1="343.40" y1="233.80" x2="345.40" y2="233.80" stroke="#444" stroke-width="0.8" />
<text x="341.00" y="236.30" font-size="6.8" text-anchor="end" font-weight="bold" fill="#000" stroke="#000" stroke-width="0.25" >0</text>
<line x1="343.40" y1="214.20" x2="345.40" y2="214.20" stroke="#444" stroke-width="0.8" />
<text x="341.00" y="216.70" font-size="6.8" text-anchor="end" font-weight="bold" fill="#000" stroke="#000" stroke-width="0.25" >0.2</text>
<line x1="343.40" y1="194.60" x2="345.40" y2="194.60" stroke="#444" stroke-width="0.8" />
<text x="341.00" y="197.10" font-size="6.8" text-anchor="end" font-weight="bold" fill="#000" stroke="#000" stroke-width="0.25" >0.4</text>
<line x1="343.40" y1="175.00" x2="345.40" y2="175.00" stroke="#444" stroke-width="0.8" />
<text x="341.00" y="177.50" font-size="6.8" text-anchor="end" font-weight="bold" fill="#000" stroke="#000" stroke-width="0.25" >0.6</text>
<line x1="343.40" y1="155.40" x2="345.40" y2="155.40" stroke="#444" stroke-width="0.8" />
<text x="341.00" y="157.90" font-size="6.8" text-anchor="end" font-weight="bold" fill="#000" stroke="#000" stroke-width="0.25" >0.8</text>
<line x1="343.40" y1="273.00" x2="343.40" y2="271.10" stroke="#444" stroke-width="0.8" />
<text x="343.40" y="281.10" font-size="6.8" text-anchor="middle" font-weight="bold" fill="#000" stroke="#000" stroke-width="0.25" >0</text>
<line x1="363.67" y1="273.00" x2="363.67" y2="271.10" stroke="#444" stroke-width="0.8" />
<text x="363.67" y="281.10" font-size="6.8" text-anchor="middle" font-weight="bold" fill="#000" stroke="#000" stroke-width="0.25" >20</text>
<line x1="383.93" y1="273.00" x2="383.93" y2="271.10" stroke="#444" stroke-width="0.8" />
<text x="383.93" y="281.10" font-size="6.8" text-anchor="middle" font-weight="bold" fill="#000" stroke="#000" stroke-width="0.25" >40</text>
<line x1="404.20" y1="273.00" x2="404.20" y2="271.10" stroke="#444" stroke-width="0.8" />
<text x="404.20" y="281.10" font-size="6.8" text-anchor="middle" font-weight="bold" fill="#000" stroke="#000" stroke-width="0.25" >60</text>
<line x1="424.46" y1="273.00" x2="424.46" y2="271.10" stroke="#444" stroke-width="0.8" />
<text x="424.46" y="281.10" font-size="6.8" text-anchor="middle" font-weight="bold" fill="#000" stroke="#000" stroke-width="0.25" >80</text>
<line x1="444.73" y1="273.00" x2="444.73" y2="271.10" stroke="#444" stroke-width="0.8" />
<text x="444.73" y="281.10" font-size="6.8" text-anchor="middle" font-weight="bold" fill="#000" stroke="#000" stroke-width="0.25" >100</text>
<line x1="465.00" y1="273.00" x2="465.00" y2="271.10" stroke="#444" stroke-width="0.8" />
<text x="465.00" y="281.10" font-size="6.8" text-anchor="middle" font-weight="bold" fill="#000" stroke="#000" stroke-width="0.25" >120</text>
<text transform="translate(324.00,217.00) rotate(-90)" font-size="7.5" text-anchor="middle" font-weight="bold" stroke="#000" stroke-width="0.32">Change in PG I/II ratio (wk 8 &#8211; wk 0)</text>
<text x="404.60" y="290.00" font-size="7.6" text-anchor="middle" font-weight="bold" fill="#000" stroke="#000" stroke-width="0.32" >Change in &#956;mol DTC (wk 8 &#8211; wk 0)</text>
<line x1="345.80" y1="225.20" x2="461.60" y2="173.60" stroke="#333" stroke-width="0.9" />
<circle cx="345.5" cy="205.4" r="1.6" fill="#000"/>
<circle cx="345.7" cy="225.6" r="1.6" fill="#000"/>
<circle cx="352" cy="220.8" r="1.6" fill="#000"/>
<circle cx="354.4" cy="257.4" r="1.6" fill="#000"/>
<circle cx="356" cy="210.6" r="1.6" fill="#000"/>
<circle cx="358.5" cy="225.7" r="1.6" fill="#000"/>
<circle cx="363" cy="221" r="1.6" fill="#000"/>
<circle cx="372.2" cy="246.1" r="1.6" fill="#000"/>
<circle cx="375.7" cy="195.8" r="1.6" fill="#000"/>
<circle cx="376.5" cy="176.1" r="1.6" fill="#000"/>
<circle cx="376.5" cy="190.6" r="1.6" fill="#000"/>
<circle cx="380.1" cy="201.7" r="1.6" fill="#000"/>
<circle cx="381.1" cy="187.2" r="1.6" fill="#000"/>
<circle cx="383.5" cy="191.6" r="1.6" fill="#000"/>
<circle cx="384.4" cy="212" r="1.6" fill="#000"/>
<circle cx="391" cy="196.1" r="1.6" fill="#000"/>
<circle cx="397.3" cy="222.6" r="1.6" fill="#000"/>
<circle cx="398.8" cy="228.2" r="1.6" fill="#000"/>
<circle cx="401.2" cy="218.5" r="1.6" fill="#000"/>
<circle cx="403.4" cy="221" r="1.6" fill="#000"/>
<circle cx="404.2" cy="204.1" r="1.6" fill="#000"/>
<circle cx="406.2" cy="206" r="1.6" fill="#000"/>
<circle cx="415" cy="179.5" r="1.6" fill="#000"/>
<circle cx="461.2" cy="159.6" r="1.6" fill="#000"/>
</svg>
</body></html>
